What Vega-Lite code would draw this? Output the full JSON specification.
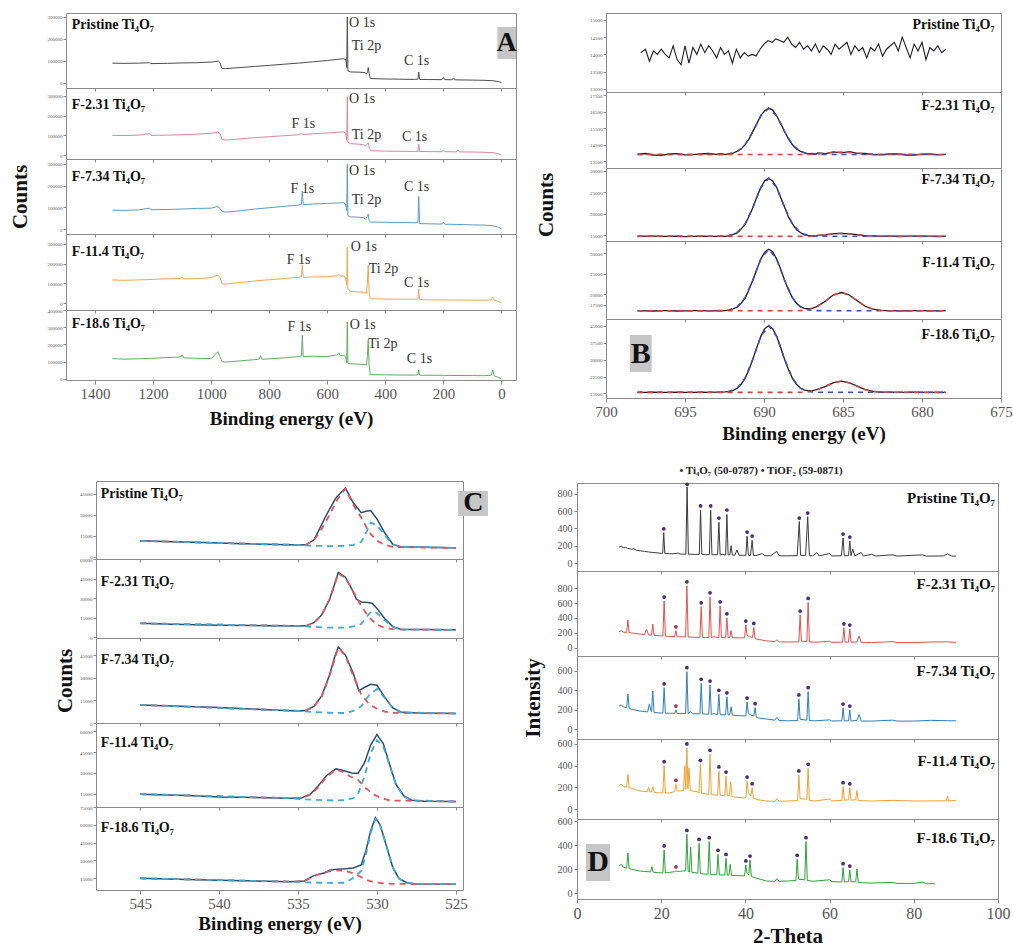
{
"$schema":"https://vega.github.io/schema/vega-lite/v6.json",
"background":"white",
"padding":{"left":5,"top":12,"right":0,"bottom":0},
"config":{"font":"Liberation Serif","view":{"stroke":"#8a8a8a","strokeWidth":1},"axis":{"grid":false,"domain":false,"tickColor":"#888","labelColor":"#555","titleFontWeight":"bold","titleColor":"#111","labelOverlap":false}},
"datasets":{
"a":[
{"s":"P","x":1340,"y":90000},{"s":"P","x":1300,"y":89000},{"s":"P","x":1250,"y":90000},{"s":"P","x":1212,"y":92000},{"s":"P","x":1208,"y":88000},{"s":"P","x":1150,"y":89000},{"s":"P","x":1100,"y":91000},{"s":"P","x":1050,"y":92000},{"s":"P","x":1000,"y":95000},{"s":"P","x":975,"y":99000},{"s":"P","x":970,"y":93000},{"s":"P","x":963,"y":66000},{"s":"P","x":950,"y":65000},{"s":"P","x":900,"y":70000},{"s":"P","x":850,"y":75000},{"s":"P","x":800,"y":80000},{"s":"P","x":750,"y":85000},{"s":"P","x":700,"y":90000},{"s":"P","x":650,"y":96000},{"s":"P","x":600,"y":102000},{"s":"P","x":560,"y":108000},{"s":"P","x":545,"y":110000},{"s":"P","x":536,"y":106000},{"s":"P","x":533,"y":70000},{"s":"P","x":531,"y":300000},{"s":"P","x":529,"y":55000},{"s":"P","x":520,"y":50000},{"s":"P","x":490,"y":49000},{"s":"P","x":470,"y":47000},{"s":"P","x":466,"y":40000},{"s":"P","x":461,"y":50000},{"s":"P","x":459,"y":70000},{"s":"P","x":456,"y":45000},{"s":"P","x":452,"y":20000},{"s":"P","x":400,"y":18000},{"s":"P","x":350,"y":17000},{"s":"P","x":300,"y":16000},{"s":"P","x":288,"y":17000},{"s":"P","x":285,"y":50000},{"s":"P","x":282,"y":16000},{"s":"P","x":250,"y":15500},{"s":"P","x":205,"y":15000},{"s":"P","x":200,"y":25000},{"s":"P","x":195,"y":15000},{"s":"P","x":170,"y":14500},{"s":"P","x":165,"y":23000},{"s":"P","x":160,"y":14000},{"s":"P","x":100,"y":13000},{"s":"P","x":60,"y":12000},{"s":"P","x":30,"y":10000},{"s":"P","x":10,"y":6000},{"s":"P","x":0,"y":2000},
{"s":"F2","x":1340,"y":100000},{"s":"F2","x":1300,"y":99000},{"s":"F2","x":1250,"y":101000},{"s":"F2","x":1212,"y":108000},{"s":"F2","x":1207,"y":100000},{"s":"F2","x":1150,"y":101000},{"s":"F2","x":1100,"y":103000},{"s":"F2","x":1050,"y":106000},{"s":"F2","x":1000,"y":110000},{"s":"F2","x":977,"y":117000},{"s":"F2","x":970,"y":110000},{"s":"F2","x":962,"y":78000},{"s":"F2","x":950,"y":76000},{"s":"F2","x":900,"y":82000},{"s":"F2","x":850,"y":88000},{"s":"F2","x":800,"y":93000},{"s":"F2","x":750,"y":98000},{"s":"F2","x":700,"y":103000},{"s":"F2","x":690,"y":108000},{"s":"F2","x":686,"y":104000},{"s":"F2","x":650,"y":108000},{"s":"F2","x":600,"y":112000},{"s":"F2","x":560,"y":116000},{"s":"F2","x":545,"y":118000},{"s":"F2","x":537,"y":112000},{"s":"F2","x":533,"y":75000},{"s":"F2","x":531,"y":295000},{"s":"F2","x":529,"y":65000},{"s":"F2","x":520,"y":58000},{"s":"F2","x":490,"y":55000},{"s":"F2","x":475,"y":52000},{"s":"F2","x":470,"y":45000},{"s":"F2","x":462,"y":55000},{"s":"F2","x":459,"y":62000},{"s":"F2","x":456,"y":40000},{"s":"F2","x":450,"y":22000},{"s":"F2","x":400,"y":20000},{"s":"F2","x":350,"y":19000},{"s":"F2","x":300,"y":18500},{"s":"F2","x":288,"y":19000},{"s":"F2","x":285,"y":56000},{"s":"F2","x":282,"y":18000},{"s":"F2","x":250,"y":17500},{"s":"F2","x":205,"y":17000},{"s":"F2","x":200,"y":25000},{"s":"F2","x":195,"y":17000},{"s":"F2","x":155,"y":16000},{"s":"F2","x":150,"y":26000},{"s":"F2","x":145,"y":16000},{"s":"F2","x":100,"y":15500},{"s":"F2","x":60,"y":14000},{"s":"F2","x":30,"y":12000},{"s":"F2","x":10,"y":6000},{"s":"F2","x":0,"y":0},
{"s":"F7","x":1340,"y":87000},{"s":"F7","x":1300,"y":86000},{"s":"F7","x":1250,"y":88000},{"s":"F7","x":1212,"y":96000},{"s":"F7","x":1207,"y":89000},{"s":"F7","x":1150,"y":90000},{"s":"F7","x":1100,"y":92000},{"s":"F7","x":1050,"y":95000},{"s":"F7","x":1000,"y":96000},{"s":"F7","x":977,"y":103000},{"s":"F7","x":970,"y":95000},{"s":"F7","x":962,"y":80000},{"s":"F7","x":950,"y":78000},{"s":"F7","x":900,"y":84000},{"s":"F7","x":850,"y":92000},{"s":"F7","x":800,"y":98000},{"s":"F7","x":750,"y":104000},{"s":"F7","x":700,"y":110000},{"s":"F7","x":689,"y":113000},{"s":"F7","x":686,"y":175000},{"s":"F7","x":683,"y":112000},{"s":"F7","x":650,"y":115000},{"s":"F7","x":600,"y":118000},{"s":"F7","x":560,"y":120000},{"s":"F7","x":545,"y":121000},{"s":"F7","x":537,"y":115000},{"s":"F7","x":533,"y":85000},{"s":"F7","x":531,"y":300000},{"s":"F7","x":529,"y":62000},{"s":"F7","x":520,"y":56000},{"s":"F7","x":490,"y":54000},{"s":"F7","x":475,"y":52000},{"s":"F7","x":468,"y":45000},{"s":"F7","x":462,"y":58000},{"s":"F7","x":459,"y":68000},{"s":"F7","x":456,"y":40000},{"s":"F7","x":452,"y":32000},{"s":"F7","x":400,"y":31000},{"s":"F7","x":350,"y":30000},{"s":"F7","x":300,"y":29000},{"s":"F7","x":288,"y":30000},{"s":"F7","x":285,"y":150000},{"s":"F7","x":282,"y":25000},{"s":"F7","x":250,"y":24000},{"s":"F7","x":205,"y":23000},{"s":"F7","x":200,"y":32000},{"s":"F7","x":195,"y":22000},{"s":"F7","x":150,"y":21000},{"s":"F7","x":100,"y":19000},{"s":"F7","x":60,"y":18000},{"s":"F7","x":30,"y":15000},{"s":"F7","x":10,"y":8000},{"s":"F7","x":0,"y":0},
{"s":"F11","x":1340,"y":117000},{"s":"F11","x":1300,"y":115000},{"s":"F11","x":1250,"y":117000},{"s":"F11","x":1200,"y":120000},{"s":"F11","x":1105,"y":125000},{"s":"F11","x":1100,"y":132000},{"s":"F11","x":1095,"y":122000},{"s":"F11","x":1050,"y":124000},{"s":"F11","x":1000,"y":128000},{"s":"F11","x":977,"y":142000},{"s":"F11","x":970,"y":130000},{"s":"F11","x":962,"y":98000},{"s":"F11","x":950,"y":96000},{"s":"F11","x":900,"y":104000},{"s":"F11","x":850,"y":112000},{"s":"F11","x":800,"y":118000},{"s":"F11","x":750,"y":124000},{"s":"F11","x":700,"y":130000},{"s":"F11","x":689,"y":133000},{"s":"F11","x":686,"y":193000},{"s":"F11","x":683,"y":130000},{"s":"F11","x":650,"y":132000},{"s":"F11","x":600,"y":134000},{"s":"F11","x":565,"y":138000},{"s":"F11","x":560,"y":145000},{"s":"F11","x":555,"y":136000},{"s":"F11","x":545,"y":138000},{"s":"F11","x":537,"y":130000},{"s":"F11","x":533,"y":90000},{"s":"F11","x":531,"y":284000},{"s":"F11","x":529,"y":70000},{"s":"F11","x":520,"y":58000},{"s":"F11","x":490,"y":56000},{"s":"F11","x":470,"y":54000},{"s":"F11","x":465,"y":50000},{"s":"F11","x":462,"y":100000},{"s":"F11","x":459,"y":193000},{"s":"F11","x":456,"y":60000},{"s":"F11","x":452,"y":22000},{"s":"F11","x":400,"y":20000},{"s":"F11","x":350,"y":19500},{"s":"F11","x":300,"y":19000},{"s":"F11","x":288,"y":20000},{"s":"F11","x":285,"y":71000},{"s":"F11","x":282,"y":17000},{"s":"F11","x":250,"y":16000},{"s":"F11","x":200,"y":15500},{"s":"F11","x":150,"y":15000},{"s":"F11","x":100,"y":14500},{"s":"F11","x":60,"y":14000},{"s":"F11","x":35,"y":16000},{"s":"F11","x":30,"y":30000},{"s":"F11","x":25,"y":14000},{"s":"F11","x":10,"y":8000},{"s":"F11","x":0,"y":0},
{"s":"F18","x":1340,"y":118000},{"s":"F18","x":1300,"y":115000},{"s":"F18","x":1250,"y":117000},{"s":"F18","x":1200,"y":120000},{"s":"F18","x":1105,"y":128000},{"s":"F18","x":1100,"y":140000},{"s":"F18","x":1095,"y":122000},{"s":"F18","x":1050,"y":120000},{"s":"F18","x":1000,"y":118000},{"s":"F18","x":977,"y":158000},{"s":"F18","x":970,"y":130000},{"s":"F18","x":962,"y":100000},{"s":"F18","x":950,"y":98000},{"s":"F18","x":900,"y":105000},{"s":"F18","x":850,"y":112000},{"s":"F18","x":835,"y":115000},{"s":"F18","x":830,"y":135000},{"s":"F18","x":825,"y":114000},{"s":"F18","x":750,"y":122000},{"s":"F18","x":700,"y":130000},{"s":"F18","x":689,"y":133000},{"s":"F18","x":686,"y":254000},{"s":"F18","x":683,"y":130000},{"s":"F18","x":650,"y":132000},{"s":"F18","x":600,"y":130000},{"s":"F18","x":565,"y":140000},{"s":"F18","x":560,"y":152000},{"s":"F18","x":555,"y":135000},{"s":"F18","x":545,"y":138000},{"s":"F18","x":537,"y":130000},{"s":"F18","x":533,"y":95000},{"s":"F18","x":531,"y":330000},{"s":"F18","x":529,"y":92000},{"s":"F18","x":520,"y":88000},{"s":"F18","x":490,"y":86000},{"s":"F18","x":470,"y":84000},{"s":"F18","x":465,"y":80000},{"s":"F18","x":462,"y":130000},{"s":"F18","x":459,"y":225000},{"s":"F18","x":456,"y":80000},{"s":"F18","x":452,"y":25000},{"s":"F18","x":400,"y":24000},{"s":"F18","x":350,"y":23000},{"s":"F18","x":300,"y":22500},{"s":"F18","x":288,"y":24000},{"s":"F18","x":285,"y":52000},{"s":"F18","x":282,"y":22000},{"s":"F18","x":250,"y":21500},{"s":"F18","x":200,"y":21000},{"s":"F18","x":150,"y":20000},{"s":"F18","x":100,"y":19500},{"s":"F18","x":60,"y":19000},{"s":"F18","x":35,"y":22000},{"s":"F18","x":30,"y":52000},{"s":"F18","x":25,"y":18000},{"s":"F18","x":10,"y":9000},{"s":"F18","x":0,"y":0}
],
"b":[
{"s":"P","k":"d","x":697.8,"y":14050},{"s":"P","k":"d","x":697.5,"y":14150},{"s":"P","k":"d","x":697.25,"y":13800},{"s":"P","k":"d","x":697,"y":14100},{"s":"P","k":"d","x":696.75,"y":14000},{"s":"P","k":"d","x":696.5,"y":14150},{"s":"P","k":"d","x":696.25,"y":14000},{"s":"P","k":"d","x":696,"y":13900},{"s":"P","k":"d","x":695.75,"y":14250},{"s":"P","k":"d","x":695.5,"y":13850},{"s":"P","k":"d","x":695.25,"y":13700},{"s":"P","k":"d","x":695,"y":14250},{"s":"P","k":"d","x":694.75,"y":13750},{"s":"P","k":"d","x":694.5,"y":14200},{"s":"P","k":"d","x":694.25,"y":14000},{"s":"P","k":"d","x":694,"y":14300},{"s":"P","k":"d","x":693.75,"y":14050},{"s":"P","k":"d","x":693.5,"y":14250},{"s":"P","k":"d","x":693.25,"y":14100},{"s":"P","k":"d","x":693,"y":13900},{"s":"P","k":"d","x":692.75,"y":14200},{"s":"P","k":"d","x":692.5,"y":14000},{"s":"P","k":"d","x":692.25,"y":14100},{"s":"P","k":"d","x":692,"y":13750},{"s":"P","k":"d","x":691.75,"y":14150},{"s":"P","k":"d","x":691.5,"y":13900},{"s":"P","k":"d","x":691.25,"y":14050},{"s":"P","k":"d","x":691,"y":13950},{"s":"P","k":"d","x":690.75,"y":14000},{"s":"P","k":"d","x":690.5,"y":13950},{"s":"P","k":"d","x":690.25,"y":14150},{"s":"P","k":"d","x":690,"y":14300},{"s":"P","k":"d","x":689.75,"y":14400},{"s":"P","k":"d","x":689.5,"y":14350},{"s":"P","k":"d","x":689.25,"y":14450},{"s":"P","k":"d","x":689,"y":14400},{"s":"P","k":"d","x":688.75,"y":14350},{"s":"P","k":"d","x":688.5,"y":14500},{"s":"P","k":"d","x":688.25,"y":14300},{"s":"P","k":"d","x":688,"y":14200},{"s":"P","k":"d","x":687.75,"y":14350},{"s":"P","k":"d","x":687.5,"y":14150},{"s":"P","k":"d","x":687.25,"y":14250},{"s":"P","k":"d","x":687,"y":14100},{"s":"P","k":"d","x":686.75,"y":14300},{"s":"P","k":"d","x":686.5,"y":14050},{"s":"P","k":"d","x":686.25,"y":14250},{"s":"P","k":"d","x":686,"y":14150},{"s":"P","k":"d","x":685.75,"y":14000},{"s":"P","k":"d","x":685.5,"y":14300},{"s":"P","k":"d","x":685.25,"y":14150},{"s":"P","k":"d","x":684.75,"y":14350},{"s":"P","k":"d","x":684.5,"y":14000},{"s":"P","k":"d","x":684.25,"y":14250},{"s":"P","k":"d","x":684,"y":14100},{"s":"P","k":"d","x":683.75,"y":14200},{"s":"P","k":"d","x":683.5,"y":13900},{"s":"P","k":"d","x":683.25,"y":14200},{"s":"P","k":"d","x":683,"y":14100},{"s":"P","k":"d","x":682.75,"y":14300},{"s":"P","k":"d","x":682.5,"y":13950},{"s":"P","k":"d","x":682.25,"y":14150},{"s":"P","k":"d","x":682,"y":14250},{"s":"P","k":"d","x":681.75,"y":14350},{"s":"P","k":"d","x":681.5,"y":14100},{"s":"P","k":"d","x":681.25,"y":14500},{"s":"P","k":"d","x":681,"y":14200},{"s":"P","k":"d","x":680.75,"y":13900},{"s":"P","k":"d","x":680.5,"y":14300},{"s":"P","k":"d","x":680.25,"y":14100},{"s":"P","k":"d","x":680,"y":14350},{"s":"P","k":"d","x":679.75,"y":13850},{"s":"P","k":"d","x":679.5,"y":14200},{"s":"P","k":"d","x":679.25,"y":14100},{"s":"P","k":"d","x":679,"y":14250},{"s":"P","k":"d","x":678.75,"y":14050},{"s":"P","k":"d","x":678.5,"y":14150},
{"s":"F2","k":"d","x":698,"y":13920},{"s":"F2","k":"d","x":697.5,"y":13960},{"s":"F2","k":"d","x":697,"y":13870},{"s":"F2","k":"d","x":696.5,"y":13850},{"s":"F2","k":"d","x":696,"y":13930},{"s":"F2","k":"d","x":695.5,"y":13950},{"s":"F2","k":"d","x":695,"y":13880},{"s":"F2","k":"d","x":694.5,"y":13890},{"s":"F2","k":"d","x":694,"y":13940},{"s":"F2","k":"d","x":693.5,"y":13960},{"s":"F2","k":"d","x":693,"y":13910},{"s":"F2","k":"d","x":692.7,"y":13950},{"s":"F2","k":"d","x":692.45,"y":13890},{"s":"F2","k":"d","x":692.2,"y":13960},{"s":"F2","k":"d","x":691.95,"y":13990},{"s":"F2","k":"d","x":691.7,"y":14100},{"s":"F2","k":"d","x":691.45,"y":14230},{"s":"F2","k":"d","x":691.2,"y":14500},{"s":"F2","k":"d","x":690.95,"y":14830},{"s":"F2","k":"d","x":690.7,"y":15320},{"s":"F2","k":"d","x":690.45,"y":15780},{"s":"F2","k":"d","x":690.2,"y":16280},{"s":"F2","k":"d","x":689.95,"y":16560},{"s":"F2","k":"d","x":689.7,"y":16720},{"s":"F2","k":"d","x":689.45,"y":16600},{"s":"F2","k":"d","x":689.2,"y":16255},{"s":"F2","k":"d","x":688.95,"y":15800},{"s":"F2","k":"d","x":688.7,"y":15300},{"s":"F2","k":"d","x":688.45,"y":14850},{"s":"F2","k":"d","x":688.2,"y":14490},{"s":"F2","k":"d","x":687.95,"y":14240},{"s":"F2","k":"d","x":687.7,"y":14090},{"s":"F2","k":"d","x":687.45,"y":14020},{"s":"F2","k":"d","x":687.2,"y":13930},{"s":"F2","k":"d","x":686.95,"y":13960},{"s":"F2","k":"d","x":686.7,"y":13920},{"s":"F2","k":"d","x":686.6,"y":13990},{"s":"F2","k":"d","x":686.1,"y":13960},{"s":"F2","k":"d","x":685.6,"y":14060},{"s":"F2","k":"d","x":685.1,"y":14000},{"s":"F2","k":"d","x":684.6,"y":14080},{"s":"F2","k":"d","x":684.1,"y":13970},{"s":"F2","k":"d","x":683.6,"y":13960},{"s":"F2","k":"d","x":683.1,"y":13900},{"s":"F2","k":"d","x":682.6,"y":13880},{"s":"F2","k":"d","x":682.1,"y":13930},{"s":"F2","k":"d","x":681.5,"y":13940},{"s":"F2","k":"d","x":681,"y":13870},{"s":"F2","k":"d","x":680.5,"y":13860},{"s":"F2","k":"d","x":680,"y":13920},{"s":"F2","k":"d","x":679.5,"y":13930},{"s":"F2","k":"d","x":679,"y":13880},{"s":"F2","k":"d","x":678.5,"y":13910},
{"s":"F2","k":"m","x":698,"y":13900},{"s":"F2","k":"m","x":692.7,"y":13906},{"s":"F2","k":"m","x":692.2,"y":13936},{"s":"F2","k":"m","x":691.7,"y":14076},{"s":"F2","k":"m","x":691.2,"y":14491},{"s":"F2","k":"m","x":690.7,"y":15300},{"s":"F2","k":"m","x":690.2,"y":16255},{"s":"F2","k":"m","x":689.7,"y":16700},{"s":"F2","k":"m","x":689.2,"y":16255},{"s":"F2","k":"m","x":688.7,"y":15300},{"s":"F2","k":"m","x":688.2,"y":14491},{"s":"F2","k":"m","x":687.7,"y":14076},{"s":"F2","k":"m","x":687.2,"y":13936},{"s":"F2","k":"m","x":686.7,"y":13906},{"s":"F2","k":"m","x":678.5,"y":13900},
{"s":"F2","k":"n","x":698,"y":13900},{"s":"F2","k":"n","x":687.1,"y":13900},{"s":"F2","k":"n","x":686.6,"y":13937},{"s":"F2","k":"n","x":686.1,"y":13981},{"s":"F2","k":"n","x":685.6,"y":14029},{"s":"F2","k":"n","x":685.1,"y":14050},{"s":"F2","k":"n","x":684.6,"y":14029},{"s":"F2","k":"n","x":684.1,"y":13981},{"s":"F2","k":"n","x":683.6,"y":13937},{"s":"F2","k":"n","x":683.1,"y":13913},{"s":"F2","k":"n","x":678.5,"y":13900},
{"s":"F7","k":"d","x":698,"y":14650},{"s":"F7","k":"d","x":697.5,"y":14720},{"s":"F7","k":"d","x":697,"y":14750},{"s":"F7","k":"d","x":696.5,"y":14680},{"s":"F7","k":"d","x":696,"y":14700},{"s":"F7","k":"d","x":695.5,"y":14760},{"s":"F7","k":"d","x":695,"y":14620},{"s":"F7","k":"d","x":694.5,"y":14700},{"s":"F7","k":"d","x":694,"y":14760},{"s":"F7","k":"d","x":693.5,"y":14680},{"s":"F7","k":"d","x":693,"y":14700},{"s":"F7","k":"d","x":692.7,"y":14760},{"s":"F7","k":"d","x":692.45,"y":14700},{"s":"F7","k":"d","x":692.2,"y":14850},{"s":"F7","k":"d","x":691.95,"y":15150},{"s":"F7","k":"d","x":691.7,"y":15500},{"s":"F7","k":"d","x":691.45,"y":16400},{"s":"F7","k":"d","x":691.2,"y":17500},{"s":"F7","k":"d","x":690.95,"y":19350},{"s":"F7","k":"d","x":690.7,"y":21450},{"s":"F7","k":"d","x":690.45,"y":23950},{"s":"F7","k":"d","x":690.2,"y":26100},{"s":"F7","k":"d","x":689.95,"y":27750},{"s":"F7","k":"d","x":689.7,"y":28300},{"s":"F7","k":"d","x":689.45,"y":27650},{"s":"F7","k":"d","x":689.2,"y":26200},{"s":"F7","k":"d","x":688.95,"y":23850},{"s":"F7","k":"d","x":688.7,"y":21550},{"s":"F7","k":"d","x":688.45,"y":19250},{"s":"F7","k":"d","x":688.2,"y":17600},{"s":"F7","k":"d","x":687.95,"y":16300},{"s":"F7","k":"d","x":687.7,"y":15600},{"s":"F7","k":"d","x":687.45,"y":15050},{"s":"F7","k":"d","x":687.2,"y":14900},{"s":"F7","k":"d","x":686.95,"y":14800},{"s":"F7","k":"d","x":686.7,"y":14700},{"s":"F7","k":"d","x":686.6,"y":14900},{"s":"F7","k":"d","x":686.1,"y":15050},{"s":"F7","k":"d","x":685.6,"y":15350},{"s":"F7","k":"d","x":685.1,"y":15380},{"s":"F7","k":"d","x":684.6,"y":15250},{"s":"F7","k":"d","x":684.1,"y":15100},{"s":"F7","k":"d","x":683.6,"y":14850},{"s":"F7","k":"d","x":683.1,"y":14780},{"s":"F7","k":"d","x":682.6,"y":14680},{"s":"F7","k":"d","x":682.1,"y":14730},{"s":"F7","k":"d","x":681.5,"y":14650},{"s":"F7","k":"d","x":681,"y":14680},{"s":"F7","k":"d","x":680.5,"y":14750},{"s":"F7","k":"d","x":680,"y":14720},{"s":"F7","k":"d","x":679.5,"y":14680},{"s":"F7","k":"d","x":679,"y":14660},{"s":"F7","k":"d","x":678.5,"y":14700},
{"s":"F7","k":"m","x":698,"y":14700},{"s":"F7","k":"m","x":692.7,"y":14727},{"s":"F7","k":"m","x":692.2,"y":14877},{"s":"F7","k":"m","x":691.7,"y":15557},{"s":"F7","k":"m","x":691.2,"y":17570},{"s":"F7","k":"m","x":690.7,"y":21500},{"s":"F7","k":"m","x":690.2,"y":26138},{"s":"F7","k":"m","x":689.7,"y":28300},{"s":"F7","k":"m","x":689.2,"y":26138},{"s":"F7","k":"m","x":688.7,"y":21500},{"s":"F7","k":"m","x":688.2,"y":17570},{"s":"F7","k":"m","x":687.7,"y":15557},{"s":"F7","k":"m","x":687.2,"y":14877},{"s":"F7","k":"m","x":686.7,"y":14727},{"s":"F7","k":"m","x":678.5,"y":14700},
{"s":"F7","k":"n","x":698,"y":14700},{"s":"F7","k":"n","x":687.1,"y":14700},{"s":"F7","k":"n","x":686.6,"y":14874},{"s":"F7","k":"n","x":686.1,"y":15078},{"s":"F7","k":"n","x":685.6,"y":15300},{"s":"F7","k":"n","x":685.1,"y":15400},{"s":"F7","k":"n","x":684.6,"y":15300},{"s":"F7","k":"n","x":684.1,"y":15078},{"s":"F7","k":"n","x":683.6,"y":14874},{"s":"F7","k":"n","x":683.1,"y":14760},{"s":"F7","k":"n","x":678.5,"y":14700},
{"s":"F11","k":"d","x":698,"y":16050},{"s":"F11","k":"d","x":697.5,"y":15980},{"s":"F11","k":"d","x":697,"y":15950},{"s":"F11","k":"d","x":696.5,"y":16060},{"s":"F11","k":"d","x":696,"y":16020},{"s":"F11","k":"d","x":695.5,"y":15950},{"s":"F11","k":"d","x":695,"y":15980},{"s":"F11","k":"d","x":694.5,"y":16040},{"s":"F11","k":"d","x":694,"y":16050},{"s":"F11","k":"d","x":693.5,"y":15970},{"s":"F11","k":"d","x":693,"y":16000},{"s":"F11","k":"d","x":692.7,"y":16030},{"s":"F11","k":"d","x":692.45,"y":16050},{"s":"F11","k":"d","x":692.2,"y":16150},{"s":"F11","k":"d","x":691.95,"y":16500},{"s":"F11","k":"d","x":691.7,"y":16900},{"s":"F11","k":"d","x":691.45,"y":17850},{"s":"F11","k":"d","x":691.2,"y":19100},{"s":"F11","k":"d","x":690.95,"y":21100},{"s":"F11","k":"d","x":690.7,"y":23550},{"s":"F11","k":"d","x":690.45,"y":26100},{"s":"F11","k":"d","x":690.2,"y":28650},{"s":"F11","k":"d","x":689.95,"y":30300},{"s":"F11","k":"d","x":689.7,"y":31000},{"s":"F11","k":"d","x":689.45,"y":30400},{"s":"F11","k":"d","x":689.2,"y":28600},{"s":"F11","k":"d","x":688.95,"y":26200},{"s":"F11","k":"d","x":688.7,"y":23500},{"s":"F11","k":"d","x":688.45,"y":21050},{"s":"F11","k":"d","x":688.2,"y":19200},{"s":"F11","k":"d","x":687.95,"y":17850},{"s":"F11","k":"d","x":687.7,"y":17000},{"s":"F11","k":"d","x":687.45,"y":16600},{"s":"F11","k":"d","x":687.2,"y":16500},{"s":"F11","k":"d","x":686.95,"y":16600},{"s":"F11","k":"d","x":686.7,"y":16950},{"s":"F11","k":"d","x":686.6,"y":17150},{"s":"F11","k":"d","x":686.1,"y":18400},{"s":"F11","k":"d","x":685.6,"y":19900},{"s":"F11","k":"d","x":685.1,"y":20450},{"s":"F11","k":"d","x":684.6,"y":19850},{"s":"F11","k":"d","x":684.1,"y":18450},{"s":"F11","k":"d","x":683.6,"y":17100},{"s":"F11","k":"d","x":683.1,"y":16400},{"s":"F11","k":"d","x":682.6,"y":16080},{"s":"F11","k":"d","x":682.1,"y":16030},{"s":"F11","k":"d","x":681.5,"y":15990},{"s":"F11","k":"d","x":681,"y":15970},{"s":"F11","k":"d","x":680.5,"y":16050},{"s":"F11","k":"d","x":680,"y":16040},{"s":"F11","k":"d","x":679.5,"y":15960},{"s":"F11","k":"d","x":679,"y":15980},{"s":"F11","k":"d","x":678.5,"y":16020},
{"s":"F11","k":"m","x":698,"y":16000},{"s":"F11","k":"m","x":692.7,"y":16030},{"s":"F11","k":"m","x":692.2,"y":16195},{"s":"F11","k":"m","x":691.7,"y":16945},{"s":"F11","k":"m","x":691.2,"y":19165},{"s":"F11","k":"m","x":690.7,"y":23500},{"s":"F11","k":"m","x":690.2,"y":28615},{"s":"F11","k":"m","x":689.7,"y":31000},{"s":"F11","k":"m","x":689.2,"y":28615},{"s":"F11","k":"m","x":688.7,"y":23500},{"s":"F11","k":"m","x":688.2,"y":19165},{"s":"F11","k":"m","x":687.7,"y":16945},{"s":"F11","k":"m","x":687.2,"y":16195},{"s":"F11","k":"m","x":686.7,"y":16030},{"s":"F11","k":"m","x":678.5,"y":16000},
{"s":"F11","k":"n","x":698,"y":16000},{"s":"F11","k":"n","x":688.1,"y":16000},{"s":"F11","k":"n","x":687.6,"y":16095},{"s":"F11","k":"n","x":687.1,"y":16383},{"s":"F11","k":"n","x":686.6,"y":17121},{"s":"F11","k":"n","x":686.1,"y":18430},{"s":"F11","k":"n","x":685.6,"y":19857},{"s":"F11","k":"n","x":685.1,"y":20500},{"s":"F11","k":"n","x":684.6,"y":19857},{"s":"F11","k":"n","x":684.1,"y":18430},{"s":"F11","k":"n","x":683.6,"y":17121},{"s":"F11","k":"n","x":683.1,"y":16383},{"s":"F11","k":"n","x":682.6,"y":16095},{"s":"F11","k":"n","x":682.1,"y":16018},{"s":"F11","k":"n","x":678.5,"y":16000},
{"s":"F18","k":"d","x":698,"y":15450},{"s":"F18","k":"d","x":697.5,"y":15520},{"s":"F18","k":"d","x":697,"y":15550},{"s":"F18","k":"d","x":696.5,"y":15460},{"s":"F18","k":"d","x":696,"y":15480},{"s":"F18","k":"d","x":695.5,"y":15560},{"s":"F18","k":"d","x":695,"y":15520},{"s":"F18","k":"d","x":694.5,"y":15480},{"s":"F18","k":"d","x":694,"y":15560},{"s":"F18","k":"d","x":693.5,"y":15530},{"s":"F18","k":"d","x":693,"y":15600},{"s":"F18","k":"d","x":692.7,"y":15600},{"s":"F18","k":"d","x":692.45,"y":15700},{"s":"F18","k":"d","x":692.2,"y":15900},{"s":"F18","k":"d","x":691.95,"y":16400},{"s":"F18","k":"d","x":691.7,"y":17300},{"s":"F18","k":"d","x":691.45,"y":19100},{"s":"F18","k":"d","x":691.2,"y":21700},{"s":"F18","k":"d","x":690.95,"y":25500},{"s":"F18","k":"d","x":690.7,"y":30300},{"s":"F18","k":"d","x":690.45,"y":35450},{"s":"F18","k":"d","x":690.2,"y":40300},{"s":"F18","k":"d","x":689.95,"y":43750},{"s":"F18","k":"d","x":689.7,"y":45000},{"s":"F18","k":"d","x":689.45,"y":43700},{"s":"F18","k":"d","x":689.2,"y":40350},{"s":"F18","k":"d","x":688.95,"y":35500},{"s":"F18","k":"d","x":688.7,"y":30200},{"s":"F18","k":"d","x":688.45,"y":25550},{"s":"F18","k":"d","x":688.2,"y":21700},{"s":"F18","k":"d","x":687.95,"y":19100},{"s":"F18","k":"d","x":687.7,"y":17450},{"s":"F18","k":"d","x":687.45,"y":16500},{"s":"F18","k":"d","x":687.2,"y":16250},{"s":"F18","k":"d","x":686.95,"y":16300},{"s":"F18","k":"d","x":686.7,"y":16600},{"s":"F18","k":"d","x":686.6,"y":16800},{"s":"F18","k":"d","x":686.1,"y":18150},{"s":"F18","k":"d","x":685.6,"y":19800},{"s":"F18","k":"d","x":685.1,"y":20500},{"s":"F18","k":"d","x":684.6,"y":19750},{"s":"F18","k":"d","x":684.1,"y":18250},{"s":"F18","k":"d","x":683.6,"y":16700},{"s":"F18","k":"d","x":683.1,"y":15950},{"s":"F18","k":"d","x":682.6,"y":15580},{"s":"F18","k":"d","x":682.1,"y":15540},{"s":"F18","k":"d","x":681.5,"y":15470},{"s":"F18","k":"d","x":681,"y":15480},{"s":"F18","k":"d","x":680.5,"y":15560},{"s":"F18","k":"d","x":680,"y":15530},{"s":"F18","k":"d","x":679.5,"y":15470},{"s":"F18","k":"d","x":679,"y":15490},{"s":"F18","k":"d","x":678.5,"y":15520},
{"s":"F18","k":"m","x":698,"y":15500},{"s":"F18","k":"m","x":692.7,"y":15559},{"s":"F18","k":"m","x":692.2,"y":15884},{"s":"F18","k":"m","x":691.7,"y":17359},{"s":"F18","k":"m","x":691.2,"y":21725},{"s":"F18","k":"m","x":690.7,"y":30250},{"s":"F18","k":"m","x":690.2,"y":40310},{"s":"F18","k":"m","x":689.7,"y":45000},{"s":"F18","k":"m","x":689.2,"y":40310},{"s":"F18","k":"m","x":688.7,"y":30250},{"s":"F18","k":"m","x":688.2,"y":21725},{"s":"F18","k":"m","x":687.7,"y":17359},{"s":"F18","k":"m","x":687.2,"y":15884},{"s":"F18","k":"m","x":686.7,"y":15559},{"s":"F18","k":"m","x":678.5,"y":15500},
{"s":"F18","k":"n","x":698,"y":15500},{"s":"F18","k":"n","x":688.1,"y":15500},{"s":"F18","k":"n","x":687.6,"y":15605},{"s":"F18","k":"n","x":687.1,"y":15925},{"s":"F18","k":"n","x":686.6,"y":16745},{"s":"F18","k":"n","x":686.1,"y":18200},{"s":"F18","k":"n","x":685.6,"y":19785},{"s":"F18","k":"n","x":685.1,"y":20500},{"s":"F18","k":"n","x":684.6,"y":19785},{"s":"F18","k":"n","x":684.1,"y":18200},{"s":"F18","k":"n","x":683.6,"y":16745},{"s":"F18","k":"n","x":683.1,"y":15925},{"s":"F18","k":"n","x":682.6,"y":15605},{"s":"F18","k":"n","x":682.1,"y":15520},{"s":"F18","k":"n","x":678.5,"y":15500}
],
"c":[
{"s":"P","k":"d","x":545,"y":11400},{"s":"P","k":"d","x":543,"y":10800},{"s":"P","k":"d","x":541,"y":10200},{"s":"P","k":"d","x":539,"y":9600},{"s":"P","k":"d","x":537,"y":9000},{"s":"P","k":"d","x":535,"y":8500},{"s":"P","k":"d","x":534.5,"y":8600},{"s":"P","k":"d","x":534,"y":12000},{"s":"P","k":"d","x":533.7,"y":18500},{"s":"P","k":"d","x":533.2,"y":30000},{"s":"P","k":"d","x":532.6,"y":42000},{"s":"P","k":"d","x":532,"y":49000},{"s":"P","k":"d","x":531.5,"y":38500},{"s":"P","k":"d","x":531,"y":31500},{"s":"P","k":"d","x":530.7,"y":32500},{"s":"P","k":"d","x":530.4,"y":33000},{"s":"P","k":"d","x":530,"y":27000},{"s":"P","k":"d","x":529.5,"y":17000},{"s":"P","k":"d","x":529,"y":9000},{"s":"P","k":"d","x":528.5,"y":7300},{"s":"P","k":"d","x":527,"y":6900},{"s":"P","k":"d","x":526,"y":6600},{"s":"P","k":"d","x":525,"y":6400},
{"s":"P","k":"r","x":545,"y":11400},{"s":"P","k":"r","x":537,"y":9000},{"s":"P","k":"r","x":535,"y":8500},{"s":"P","k":"r","x":534.5,"y":8600},{"s":"P","k":"r","x":534,"y":11800},{"s":"P","k":"r","x":533.5,"y":20000},{"s":"P","k":"r","x":533,"y":30000},{"s":"P","k":"r","x":532.5,"y":41000},{"s":"P","k":"r","x":532,"y":48500},{"s":"P","k":"r","x":531.5,"y":37000},{"s":"P","k":"r","x":531,"y":28000},{"s":"P","k":"r","x":530.5,"y":17500},{"s":"P","k":"r","x":530,"y":11500},{"s":"P","k":"r","x":529.5,"y":8500},{"s":"P","k":"r","x":529,"y":7200},{"s":"P","k":"r","x":528.5,"y":6900},{"s":"P","k":"r","x":525,"y":6400},
{"s":"P","k":"u","x":545,"y":11400},{"s":"P","k":"u","x":537,"y":9000},{"s":"P","k":"u","x":535,"y":8500},{"s":"P","k":"u","x":534,"y":7900},{"s":"P","k":"u","x":533,"y":7700},{"s":"P","k":"u","x":532,"y":7800},{"s":"P","k":"u","x":531.5,"y":8500},{"s":"P","k":"u","x":531,"y":10500},{"s":"P","k":"u","x":530.7,"y":17000},{"s":"P","k":"u","x":530.4,"y":24500},{"s":"P","k":"u","x":530,"y":22500},{"s":"P","k":"u","x":529.5,"y":15500},{"s":"P","k":"u","x":529,"y":8800},{"s":"P","k":"u","x":528.5,"y":7300},{"s":"P","k":"u","x":527,"y":6900},{"s":"P","k":"u","x":525,"y":6400},
{"s":"F2","k":"d","x":545,"y":10500},{"s":"F2","k":"d","x":543,"y":9800},{"s":"F2","k":"d","x":540,"y":9000},{"s":"F2","k":"d","x":537,"y":8700},{"s":"F2","k":"d","x":535,"y":8500},{"s":"F2","k":"d","x":534.5,"y":8600},{"s":"F2","k":"d","x":534,"y":11000},{"s":"F2","k":"d","x":533.5,"y":17000},{"s":"F2","k":"d","x":533,"y":29000},{"s":"F2","k":"d","x":532.7,"y":40000},{"s":"F2","k":"d","x":532.45,"y":49700},{"s":"F2","k":"d","x":532,"y":46000},{"s":"F2","k":"d","x":531.6,"y":37000},{"s":"F2","k":"d","x":531.3,"y":29000},{"s":"F2","k":"d","x":531,"y":27000},{"s":"F2","k":"d","x":530.6,"y":26500},{"s":"F2","k":"d","x":530.3,"y":26000},{"s":"F2","k":"d","x":530,"y":22000},{"s":"F2","k":"d","x":529.5,"y":14000},{"s":"F2","k":"d","x":529,"y":8000},{"s":"F2","k":"d","x":528.5,"y":6000},{"s":"F2","k":"d","x":527,"y":5700},{"s":"F2","k":"d","x":525,"y":5500},
{"s":"F2","k":"r","x":545,"y":10500},{"s":"F2","k":"r","x":535,"y":8500},{"s":"F2","k":"r","x":534.5,"y":8600},{"s":"F2","k":"r","x":534,"y":10800},{"s":"F2","k":"r","x":533.5,"y":17000},{"s":"F2","k":"r","x":533,"y":29000},{"s":"F2","k":"r","x":532.45,"y":49000},{"s":"F2","k":"r","x":532,"y":45500},{"s":"F2","k":"r","x":531.5,"y":35000},{"s":"F2","k":"r","x":531,"y":24000},{"s":"F2","k":"r","x":530.5,"y":15000},{"s":"F2","k":"r","x":530,"y":9500},{"s":"F2","k":"r","x":529.5,"y":7000},{"s":"F2","k":"r","x":529,"y":6000},{"s":"F2","k":"r","x":528.5,"y":5700},{"s":"F2","k":"r","x":525,"y":5500},
{"s":"F2","k":"u","x":545,"y":10500},{"s":"F2","k":"u","x":535,"y":8500},{"s":"F2","k":"u","x":534,"y":7800},{"s":"F2","k":"u","x":533,"y":7200},{"s":"F2","k":"u","x":532,"y":7200},{"s":"F2","k":"u","x":531.5,"y":8200},{"s":"F2","k":"u","x":531,"y":10000},{"s":"F2","k":"u","x":530.5,"y":17800},{"s":"F2","k":"u","x":530.3,"y":20000},{"s":"F2","k":"u","x":530,"y":18500},{"s":"F2","k":"u","x":529.5,"y":12800},{"s":"F2","k":"u","x":529,"y":7700},{"s":"F2","k":"u","x":528.5,"y":5800},{"s":"F2","k":"u","x":525,"y":5500},
{"s":"F7","k":"d","x":545,"y":12000},{"s":"F7","k":"d","x":542,"y":11000},{"s":"F7","k":"d","x":540,"y":10300},{"s":"F7","k":"d","x":537,"y":8800},{"s":"F7","k":"d","x":535,"y":8000},{"s":"F7","k":"d","x":534.5,"y":8300},{"s":"F7","k":"d","x":534,"y":11000},{"s":"F7","k":"d","x":533.5,"y":18000},{"s":"F7","k":"d","x":533,"y":32000},{"s":"F7","k":"d","x":532.7,"y":43000},{"s":"F7","k":"d","x":532.45,"y":50300},{"s":"F7","k":"d","x":532,"y":45000},{"s":"F7","k":"d","x":531.5,"y":33000},{"s":"F7","k":"d","x":531.15,"y":21500},{"s":"F7","k":"d","x":530.8,"y":23500},{"s":"F7","k":"d","x":530.4,"y":25600},{"s":"F7","k":"d","x":530,"y":25000},{"s":"F7","k":"d","x":529.5,"y":17000},{"s":"F7","k":"d","x":529,"y":10000},{"s":"F7","k":"d","x":528.5,"y":7300},{"s":"F7","k":"d","x":527.5,"y":6600},{"s":"F7","k":"d","x":526,"y":6400},{"s":"F7","k":"d","x":525,"y":6300},
{"s":"F7","k":"r","x":545,"y":12000},{"s":"F7","k":"r","x":535,"y":8000},{"s":"F7","k":"r","x":534.5,"y":8300},{"s":"F7","k":"r","x":534,"y":10800},{"s":"F7","k":"r","x":533.5,"y":17500},{"s":"F7","k":"r","x":533,"y":31500},{"s":"F7","k":"r","x":532.45,"y":50000},{"s":"F7","k":"r","x":532,"y":44500},{"s":"F7","k":"r","x":531.5,"y":31000},{"s":"F7","k":"r","x":531,"y":19000},{"s":"F7","k":"r","x":530.5,"y":12500},{"s":"F7","k":"r","x":530,"y":9500},{"s":"F7","k":"r","x":529.5,"y":7500},{"s":"F7","k":"r","x":529,"y":6700},{"s":"F7","k":"r","x":525,"y":6300},
{"s":"F7","k":"u","x":545,"y":12000},{"s":"F7","k":"u","x":535,"y":8000},{"s":"F7","k":"u","x":534,"y":7300},{"s":"F7","k":"u","x":533,"y":6800},{"s":"F7","k":"u","x":532,"y":6600},{"s":"F7","k":"u","x":531.5,"y":8000},{"s":"F7","k":"u","x":531,"y":11000},{"s":"F7","k":"u","x":530.5,"y":18500},{"s":"F7","k":"u","x":530,"y":22500},{"s":"F7","k":"u","x":529.5,"y":16500},{"s":"F7","k":"u","x":529,"y":10000},{"s":"F7","k":"u","x":528.5,"y":7000},{"s":"F7","k":"u","x":525,"y":6300},
{"s":"F11","k":"d","x":545,"y":14800},{"s":"F11","k":"d","x":542,"y":13800},{"s":"F11","k":"d","x":540,"y":12800},{"s":"F11","k":"d","x":537,"y":12200},{"s":"F11","k":"d","x":535.5,"y":11900},{"s":"F11","k":"d","x":534.8,"y":12000},{"s":"F11","k":"d","x":534.2,"y":15000},{"s":"F11","k":"d","x":533.7,"y":21000},{"s":"F11","k":"d","x":533.2,"y":28000},{"s":"F11","k":"d","x":532.6,"y":32900},{"s":"F11","k":"d","x":532.2,"y":32000},{"s":"F11","k":"d","x":531.6,"y":30000},{"s":"F11","k":"d","x":531.2,"y":29700},{"s":"F11","k":"d","x":530.8,"y":37000},{"s":"F11","k":"d","x":530.4,"y":50000},{"s":"F11","k":"d","x":530,"y":57500},{"s":"F11","k":"d","x":529.6,"y":51000},{"s":"F11","k":"d","x":529.2,"y":36000},{"s":"F11","k":"d","x":528.8,"y":22000},{"s":"F11","k":"d","x":528.3,"y":13500},{"s":"F11","k":"d","x":527.8,"y":10500},{"s":"F11","k":"d","x":527,"y":9800},{"s":"F11","k":"d","x":525,"y":9500},
{"s":"F11","k":"r","x":545,"y":14800},{"s":"F11","k":"r","x":535.5,"y":11900},{"s":"F11","k":"r","x":534.8,"y":11900},{"s":"F11","k":"r","x":534.2,"y":14500},{"s":"F11","k":"r","x":533.7,"y":20000},{"s":"F11","k":"r","x":533.2,"y":27000},{"s":"F11","k":"r","x":532.6,"y":32500},{"s":"F11","k":"r","x":532.2,"y":31000},{"s":"F11","k":"r","x":531.7,"y":27500},{"s":"F11","k":"r","x":531.2,"y":25000},{"s":"F11","k":"r","x":530.7,"y":19000},{"s":"F11","k":"r","x":530.2,"y":14500},{"s":"F11","k":"r","x":529.7,"y":11800},{"s":"F11","k":"r","x":529.2,"y":10300},{"s":"F11","k":"r","x":525,"y":9500},
{"s":"F11","k":"u","x":545,"y":14800},{"s":"F11","k":"u","x":535.5,"y":11900},{"s":"F11","k":"u","x":534.5,"y":11000},{"s":"F11","k":"u","x":533.5,"y":10500},{"s":"F11","k":"u","x":532.5,"y":10300},{"s":"F11","k":"u","x":532,"y":10500},{"s":"F11","k":"u","x":531.5,"y":12000},{"s":"F11","k":"u","x":531.2,"y":15000},{"s":"F11","k":"u","x":530.8,"y":27200},{"s":"F11","k":"u","x":530.4,"y":44000},{"s":"F11","k":"u","x":530,"y":53500},{"s":"F11","k":"u","x":529.6,"y":48900},{"s":"F11","k":"u","x":529.2,"y":35500},{"s":"F11","k":"u","x":528.8,"y":21700},{"s":"F11","k":"u","x":528.3,"y":13000},{"s":"F11","k":"u","x":527.8,"y":10400},{"s":"F11","k":"u","x":525,"y":9500},
{"s":"F18","k":"d","x":545,"y":14700},{"s":"F18","k":"d","x":542,"y":13800},{"s":"F18","k":"d","x":540,"y":13000},{"s":"F18","k":"d","x":537,"y":12300},{"s":"F18","k":"d","x":535.5,"y":11900},{"s":"F18","k":"d","x":534.6,"y":12500},{"s":"F18","k":"d","x":534,"y":17000},{"s":"F18","k":"d","x":533.3,"y":19500},{"s":"F18","k":"d","x":533,"y":21500},{"s":"F18","k":"d","x":532.5,"y":22500},{"s":"F18","k":"d","x":532,"y":22800},{"s":"F18","k":"d","x":531.5,"y":23500},{"s":"F18","k":"d","x":531,"y":26000},{"s":"F18","k":"d","x":530.7,"y":38000},{"s":"F18","k":"d","x":530.4,"y":55000},{"s":"F18","k":"d","x":530.1,"y":66000},{"s":"F18","k":"d","x":529.8,"y":60000},{"s":"F18","k":"d","x":529.4,"y":42000},{"s":"F18","k":"d","x":529,"y":24000},{"s":"F18","k":"d","x":528.6,"y":14500},{"s":"F18","k":"d","x":528.1,"y":11000},{"s":"F18","k":"d","x":527.5,"y":10000},{"s":"F18","k":"d","x":525,"y":9800},
{"s":"F18","k":"r","x":545,"y":14700},{"s":"F18","k":"r","x":535.5,"y":11900},{"s":"F18","k":"r","x":534.6,"y":12300},{"s":"F18","k":"r","x":534,"y":16500},{"s":"F18","k":"r","x":533.5,"y":19000},{"s":"F18","k":"r","x":533,"y":20800},{"s":"F18","k":"r","x":532.5,"y":21500},{"s":"F18","k":"r","x":532,"y":21000},{"s":"F18","k":"r","x":531.5,"y":19000},{"s":"F18","k":"r","x":531.1,"y":16500},{"s":"F18","k":"r","x":530.7,"y":13500},{"s":"F18","k":"r","x":530.2,"y":11500},{"s":"F18","k":"r","x":529.6,"y":10500},{"s":"F18","k":"r","x":529,"y":10000},{"s":"F18","k":"r","x":525,"y":9800},
{"s":"F18","k":"u","x":545,"y":14700},{"s":"F18","k":"u","x":535.5,"y":11900},{"s":"F18","k":"u","x":534.5,"y":11300},{"s":"F18","k":"u","x":533.5,"y":11000},{"s":"F18","k":"u","x":532.5,"y":10800},{"s":"F18","k":"u","x":532,"y":11000},{"s":"F18","k":"u","x":531.5,"y":15300},{"s":"F18","k":"u","x":531,"y":20700},{"s":"F18","k":"u","x":530.7,"y":35100},{"s":"F18","k":"u","x":530.4,"y":53200},{"s":"F18","k":"u","x":530.1,"y":64800},{"s":"F18","k":"u","x":529.8,"y":59300},{"s":"F18","k":"u","x":529.4,"y":41900},{"s":"F18","k":"u","x":529,"y":24000},{"s":"F18","k":"u","x":528.6,"y":14500},{"s":"F18","k":"u","x":528.1,"y":11000},{"s":"F18","k":"u","x":527.5,"y":10000},{"s":"F18","k":"u","x":525,"y":9800}
],
"d":[
{"s":"P","x":10,"y":185},{"s":"P","x":10.5,"y":195},{"s":"P","x":11,"y":178},{"s":"P","x":11.5,"y":182},{"s":"P","x":12,"y":170},{"s":"P","x":13,"y":160},{"s":"P","x":13.5,"y":165},{"s":"P","x":14,"y":150},{"s":"P","x":15,"y":142},{"s":"P","x":16,"y":135},{"s":"P","x":17,"y":128},{"s":"P","x":18,"y":122},{"s":"P","x":19,"y":118},{"s":"P","x":20,"y":112},{"s":"P","x":20.35,"y":113},{"s":"P","x":20.6,"y":350},{"s":"P","x":20.85,"y":112},{"s":"P","x":22,"y":108},{"s":"P","x":23,"y":108},{"s":"P","x":24,"y":115},{"s":"P","x":24.5,"y":104},{"s":"P","x":25,"y":104},{"s":"P","x":25.85,"y":103},{"s":"P","x":26.15,"y":880},{"s":"P","x":26.45,"y":102},{"s":"P","x":27,"y":102},{"s":"P","x":28,"y":100},{"s":"P","x":29.05,"y":100},{"s":"P","x":29.35,"y":610},{"s":"P","x":29.65,"y":100},{"s":"P","x":30.5,"y":97},{"s":"P","x":31.45,"y":96},{"s":"P","x":31.75,"y":610},{"s":"P","x":32.05,"y":96},{"s":"P","x":32.5,"y":97},{"s":"P","x":33.4,"y":95},{"s":"P","x":33.7,"y":470},{"s":"P","x":34,"y":95},{"s":"P","x":34.5,"y":100},{"s":"P","x":35.3,"y":93},{"s":"P","x":35.6,"y":560},{"s":"P","x":35.9,"y":94},{"s":"P","x":36.3,"y":95},{"s":"P","x":36.6,"y":200},{"s":"P","x":36.9,"y":92},{"s":"P","x":37.5,"y":92},{"s":"P","x":38,"y":150},{"s":"P","x":38.5,"y":90},{"s":"P","x":39.5,"y":90},{"s":"P","x":40.1,"y":89},{"s":"P","x":40.4,"y":310},{"s":"P","x":40.7,"y":89},{"s":"P","x":41.2,"y":88},{"s":"P","x":41.6,"y":260},{"s":"P","x":41.9,"y":87},{"s":"P","x":42.5,"y":86},{"s":"P","x":44,"y":110},{"s":"P","x":44.5,"y":85},{"s":"P","x":46,"y":84},{"s":"P","x":47.5,"y":135},{"s":"P","x":48,"y":84},{"s":"P","x":50,"y":83},{"s":"P","x":52.3,"y":85},{"s":"P","x":52.8,"y":480},{"s":"P","x":53.1,"y":90},{"s":"P","x":54.3,"y":88},{"s":"P","x":54.8,"y":535},{"s":"P","x":55.2,"y":84},{"s":"P","x":56,"y":83},{"s":"P","x":57,"y":120},{"s":"P","x":57.5,"y":83},{"s":"P","x":60,"y":110},{"s":"P","x":60.5,"y":82},{"s":"P","x":62.8,"y":84},{"s":"P","x":63.2,"y":290},{"s":"P","x":63.5,"y":84},{"s":"P","x":64.5,"y":85},{"s":"P","x":64.8,"y":255},{"s":"P","x":65.1,"y":84},{"s":"P","x":65.5,"y":160},{"s":"P","x":66,"y":83},{"s":"P","x":67.5,"y":120},{"s":"P","x":68,"y":82},{"s":"P","x":70,"y":100},{"s":"P","x":71,"y":81},{"s":"P","x":75,"y":95},{"s":"P","x":76,"y":80},{"s":"P","x":82,"y":95},{"s":"P","x":83,"y":80},{"s":"P","x":87,"y":82},{"s":"P","x":88,"y":105},{"s":"P","x":89,"y":80},{"s":"P","x":90,"y":80},
{"s":"F2","x":10,"y":217},{"s":"F2","x":10.5,"y":230},{"s":"F2","x":11,"y":212},{"s":"F2","x":11.8,"y":207},{"s":"F2","x":12.1,"y":370},{"s":"F2","x":12.4,"y":205},{"s":"F2","x":13,"y":200},{"s":"F2","x":14,"y":192},{"s":"F2","x":15,"y":186},{"s":"F2","x":16,"y":180},{"s":"F2","x":16.5,"y":250},{"s":"F2","x":17,"y":175},{"s":"F2","x":17.7,"y":172},{"s":"F2","x":18,"y":320},{"s":"F2","x":18.3,"y":170},{"s":"F2","x":19,"y":165},{"s":"F2","x":20.4,"y":160},{"s":"F2","x":20.7,"y":627},{"s":"F2","x":21,"y":158},{"s":"F2","x":22,"y":155},{"s":"F2","x":23.2,"y":152},{"s":"F2","x":23.5,"y":230},{"s":"F2","x":23.8,"y":150},{"s":"F2","x":25,"y":148},{"s":"F2","x":25.8,"y":146},{"s":"F2","x":26.1,"y":830},{"s":"F2","x":26.4,"y":146},{"s":"F2","x":27,"y":145},{"s":"F2","x":28,"y":143},{"s":"F2","x":29.2,"y":142},{"s":"F2","x":29.5,"y":550},{"s":"F2","x":29.8,"y":141},{"s":"F2","x":30.5,"y":140},{"s":"F2","x":31.3,"y":140},{"s":"F2","x":31.6,"y":683},{"s":"F2","x":31.9,"y":140},{"s":"F2","x":32.5,"y":150},{"s":"F2","x":33.7,"y":139},{"s":"F2","x":34,"y":563},{"s":"F2","x":34.3,"y":139},{"s":"F2","x":35.3,"y":138},{"s":"F2","x":35.6,"y":403},{"s":"F2","x":35.9,"y":138},{"s":"F2","x":36.3,"y":140},{"s":"F2","x":36.6,"y":230},{"s":"F2","x":36.9,"y":137},{"s":"F2","x":38,"y":136},{"s":"F2","x":39.8,"y":135},{"s":"F2","x":40.1,"y":306},{"s":"F2","x":40.4,"y":170},{"s":"F2","x":41,"y":150},{"s":"F2","x":41.7,"y":140},{"s":"F2","x":42,"y":275},{"s":"F2","x":42.3,"y":125},{"s":"F2","x":43,"y":115},{"s":"F2","x":44,"y":105},{"s":"F2","x":45,"y":95},{"s":"F2","x":47,"y":85},{"s":"F2","x":47.5,"y":110},{"s":"F2","x":48,"y":82},{"s":"F2","x":50,"y":80},{"s":"F2","x":52.7,"y":82},{"s":"F2","x":53,"y":439},{"s":"F2","x":53.3,"y":90},{"s":"F2","x":54.6,"y":85},{"s":"F2","x":54.9,"y":608},{"s":"F2","x":55.2,"y":80},{"s":"F2","x":57,"y":78},{"s":"F2","x":60,"y":90},{"s":"F2","x":60.5,"y":76},{"s":"F2","x":63.1,"y":78},{"s":"F2","x":63.4,"y":270},{"s":"F2","x":63.7,"y":78},{"s":"F2","x":64.5,"y":78},{"s":"F2","x":64.8,"y":253},{"s":"F2","x":65.1,"y":77},{"s":"F2","x":66.5,"y":80},{"s":"F2","x":67,"y":160},{"s":"F2","x":67.5,"y":75},{"s":"F2","x":70,"y":72},{"s":"F2","x":75,"y":85},{"s":"F2","x":76,"y":72},{"s":"F2","x":80,"y":72},{"s":"F2","x":84,"y":80},{"s":"F2","x":88,"y":82},{"s":"F2","x":90,"y":75},
{"s":"F7","x":10,"y":238},{"s":"F7","x":10.5,"y":250},{"s":"F7","x":11,"y":228},{"s":"F7","x":11.8,"y":222},{"s":"F7","x":12.1,"y":362},{"s":"F7","x":12.4,"y":212},{"s":"F7","x":13,"y":205},{"s":"F7","x":14,"y":195},{"s":"F7","x":15,"y":186},{"s":"F7","x":16,"y":180},{"s":"F7","x":16.8,"y":178},{"s":"F7","x":17.2,"y":260},{"s":"F7","x":17.5,"y":200},{"s":"F7","x":17.7,"y":176},{"s":"F7","x":18,"y":393},{"s":"F7","x":18.3,"y":172},{"s":"F7","x":19,"y":168},{"s":"F7","x":20.4,"y":165},{"s":"F7","x":20.7,"y":427},{"s":"F7","x":21,"y":164},{"s":"F7","x":22,"y":163},{"s":"F7","x":23.2,"y":162},{"s":"F7","x":23.5,"y":197},{"s":"F7","x":23.8,"y":161},{"s":"F7","x":25,"y":160},{"s":"F7","x":25.8,"y":160},{"s":"F7","x":26.1,"y":593},{"s":"F7","x":26.4,"y":160},{"s":"F7","x":27,"y":180},{"s":"F7","x":27.5,"y":158},{"s":"F7","x":29.2,"y":157},{"s":"F7","x":29.5,"y":473},{"s":"F7","x":29.8,"y":156},{"s":"F7","x":30.5,"y":155},{"s":"F7","x":31.3,"y":154},{"s":"F7","x":31.6,"y":455},{"s":"F7","x":31.9,"y":152},{"s":"F7","x":32.5,"y":160},{"s":"F7","x":33.4,"y":150},{"s":"F7","x":33.7,"y":359},{"s":"F7","x":34,"y":149},{"s":"F7","x":35.3,"y":146},{"s":"F7","x":35.6,"y":334},{"s":"F7","x":35.9,"y":145},{"s":"F7","x":36.3,"y":150},{"s":"F7","x":36.6,"y":230},{"s":"F7","x":36.9,"y":143},{"s":"F7","x":38,"y":140},{"s":"F7","x":40.1,"y":135},{"s":"F7","x":40.4,"y":279},{"s":"F7","x":40.7,"y":160},{"s":"F7","x":41.3,"y":145},{"s":"F7","x":42,"y":135},{"s":"F7","x":42.3,"y":221},{"s":"F7","x":42.6,"y":120},{"s":"F7","x":43,"y":115},{"s":"F7","x":45,"y":103},{"s":"F7","x":47,"y":92},{"s":"F7","x":47.5,"y":120},{"s":"F7","x":48,"y":88},{"s":"F7","x":50,"y":85},{"s":"F7","x":52.4,"y":88},{"s":"F7","x":52.7,"y":311},{"s":"F7","x":53,"y":100},{"s":"F7","x":54.6,"y":92},{"s":"F7","x":54.9,"y":386},{"s":"F7","x":55.2,"y":88},{"s":"F7","x":56.5,"y":85},{"s":"F7","x":60,"y":95},{"s":"F7","x":60.5,"y":83},{"s":"F7","x":62.9,"y":85},{"s":"F7","x":63.2,"y":217},{"s":"F7","x":63.5,"y":85},{"s":"F7","x":64.5,"y":85},{"s":"F7","x":64.8,"y":197},{"s":"F7","x":65.1,"y":84},{"s":"F7","x":66.5,"y":88},{"s":"F7","x":67,"y":150},{"s":"F7","x":67.5,"y":82},{"s":"F7","x":70,"y":82},{"s":"F7","x":75,"y":92},{"s":"F7","x":76,"y":82},{"s":"F7","x":80,"y":82},{"s":"F7","x":84,"y":90},{"s":"F7","x":88,"y":86},{"s":"F7","x":90,"y":85},
{"s":"F11","x":10,"y":219},{"s":"F11","x":10.5,"y":230},{"s":"F11","x":11,"y":210},{"s":"F11","x":11.8,"y":203},{"s":"F11","x":12.1,"y":320},{"s":"F11","x":12.4,"y":198},{"s":"F11","x":13,"y":190},{"s":"F11","x":14,"y":178},{"s":"F11","x":15,"y":166},{"s":"F11","x":16,"y":162},{"s":"F11","x":16.7,"y":160},{"s":"F11","x":17,"y":200},{"s":"F11","x":17.3,"y":158},{"s":"F11","x":17.7,"y":157},{"s":"F11","x":18,"y":206},{"s":"F11","x":18.3,"y":155},{"s":"F11","x":19,"y":150},{"s":"F11","x":20.4,"y":148},{"s":"F11","x":20.7,"y":400},{"s":"F11","x":21,"y":147},{"s":"F11","x":22,"y":150},{"s":"F11","x":23.2,"y":160},{"s":"F11","x":23.5,"y":228},{"s":"F11","x":23.8,"y":165},{"s":"F11","x":24.8,"y":168},{"s":"F11","x":25.3,"y":170},{"s":"F11","x":25.6,"y":400},{"s":"F11","x":25.85,"y":180},{"s":"F11","x":26.1,"y":563},{"s":"F11","x":26.35,"y":185},{"s":"F11","x":26.6,"y":380},{"s":"F11","x":26.9,"y":170},{"s":"F11","x":27.5,"y":165},{"s":"F11","x":28.5,"y":160},{"s":"F11","x":29,"y":148},{"s":"F11","x":29.3,"y":412},{"s":"F11","x":29.6,"y":145},{"s":"F11","x":30.5,"y":140},{"s":"F11","x":31.3,"y":135},{"s":"F11","x":31.6,"y":505},{"s":"F11","x":31.9,"y":133},{"s":"F11","x":32.5,"y":130},{"s":"F11","x":33.4,"y":128},{"s":"F11","x":33.7,"y":351},{"s":"F11","x":34,"y":126},{"s":"F11","x":35.1,"y":122},{"s":"F11","x":35.4,"y":304},{"s":"F11","x":35.7,"y":120},{"s":"F11","x":36.2,"y":125},{"s":"F11","x":36.5,"y":250},{"s":"F11","x":36.8,"y":115},{"s":"F11","x":38,"y":108},{"s":"F11","x":40.1,"y":102},{"s":"F11","x":40.4,"y":258},{"s":"F11","x":40.7,"y":150},{"s":"F11","x":41.3,"y":120},{"s":"F11","x":41.6,"y":196},{"s":"F11","x":41.9,"y":100},{"s":"F11","x":43,"y":85},{"s":"F11","x":45,"y":74},{"s":"F11","x":47,"y":70},{"s":"F11","x":47.5,"y":95},{"s":"F11","x":48,"y":72},{"s":"F11","x":50,"y":74},{"s":"F11","x":52.4,"y":78},{"s":"F11","x":52.7,"y":314},{"s":"F11","x":53,"y":95},{"s":"F11","x":54.6,"y":90},{"s":"F11","x":54.9,"y":375},{"s":"F11","x":55.2,"y":80},{"s":"F11","x":56.5,"y":74},{"s":"F11","x":60,"y":92},{"s":"F11","x":60.5,"y":75},{"s":"F11","x":62.9,"y":80},{"s":"F11","x":63.2,"y":206},{"s":"F11","x":63.5,"y":82},{"s":"F11","x":64.5,"y":84},{"s":"F11","x":64.8,"y":196},{"s":"F11","x":65.1,"y":82},{"s":"F11","x":66.2,"y":85},{"s":"F11","x":66.5,"y":170},{"s":"F11","x":66.8,"y":78},{"s":"F11","x":70,"y":74},{"s":"F11","x":75,"y":80},{"s":"F11","x":80,"y":74},{"s":"F11","x":87.7,"y":76},{"s":"F11","x":88,"y":120},{"s":"F11","x":88.3,"y":74},{"s":"F11","x":90,"y":80},
{"s":"F18","x":10,"y":225},{"s":"F18","x":10.5,"y":240},{"s":"F18","x":11,"y":215},{"s":"F18","x":11.8,"y":208},{"s":"F18","x":12.1,"y":334},{"s":"F18","x":12.4,"y":203},{"s":"F18","x":13,"y":198},{"s":"F18","x":14,"y":190},{"s":"F18","x":15,"y":183},{"s":"F18","x":16,"y":180},{"s":"F18","x":17.5,"y":176},{"s":"F18","x":17.8,"y":220},{"s":"F18","x":18.1,"y":174},{"s":"F18","x":19,"y":170},{"s":"F18","x":20.4,"y":167},{"s":"F18","x":20.7,"y":359},{"s":"F18","x":21,"y":168},{"s":"F18","x":22,"y":172},{"s":"F18","x":23.2,"y":178},{"s":"F18","x":23.5,"y":184},{"s":"F18","x":23.8,"y":180},{"s":"F18","x":25,"y":183},{"s":"F18","x":25.8,"y":185},{"s":"F18","x":26.1,"y":489},{"s":"F18","x":26.4,"y":180},{"s":"F18","x":26.7,"y":175},{"s":"F18","x":27,"y":380},{"s":"F18","x":27.3,"y":172},{"s":"F18","x":28,"y":170},{"s":"F18","x":28.7,"y":165},{"s":"F18","x":29,"y":414},{"s":"F18","x":29.3,"y":162},{"s":"F18","x":30.3,"y":158},{"s":"F18","x":31.1,"y":156},{"s":"F18","x":31.4,"y":428},{"s":"F18","x":31.7,"y":155},{"s":"F18","x":32.5,"y":153},{"s":"F18","x":33.2,"y":152},{"s":"F18","x":33.5,"y":323},{"s":"F18","x":33.8,"y":151},{"s":"F18","x":35.1,"y":150},{"s":"F18","x":35.4,"y":289},{"s":"F18","x":35.7,"y":149},{"s":"F18","x":36.1,"y":150},{"s":"F18","x":36.4,"y":240},{"s":"F18","x":36.7,"y":147},{"s":"F18","x":38,"y":145},{"s":"F18","x":39.8,"y":143},{"s":"F18","x":40.1,"y":234},{"s":"F18","x":40.4,"y":165},{"s":"F18","x":40.8,"y":150},{"s":"F18","x":41.1,"y":275},{"s":"F18","x":41.4,"y":140},{"s":"F18","x":42,"y":130},{"s":"F18","x":43,"y":120},{"s":"F18","x":45,"y":100},{"s":"F18","x":47,"y":97},{"s":"F18","x":47.5,"y":120},{"s":"F18","x":48,"y":98},{"s":"F18","x":50,"y":100},{"s":"F18","x":52,"y":105},{"s":"F18","x":52.3,"y":281},{"s":"F18","x":52.6,"y":115},{"s":"F18","x":54.1,"y":110},{"s":"F18","x":54.4,"y":428},{"s":"F18","x":54.7,"y":105},{"s":"F18","x":56,"y":98},{"s":"F18","x":60,"y":110},{"s":"F18","x":60.5,"y":95},{"s":"F18","x":62.9,"y":92},{"s":"F18","x":63.2,"y":211},{"s":"F18","x":63.5,"y":92},{"s":"F18","x":64.5,"y":94},{"s":"F18","x":64.8,"y":192},{"s":"F18","x":65.1,"y":92},{"s":"F18","x":66.2,"y":95},{"s":"F18","x":66.5,"y":200},{"s":"F18","x":66.8,"y":88},{"s":"F18","x":68,"y":85},{"s":"F18","x":70,"y":83},{"s":"F18","x":75,"y":88},{"s":"F18","x":76,"y":80},{"s":"F18","x":80,"y":80},{"s":"F18","x":82,"y":90},{"s":"F18","x":83,"y":78},{"s":"F18","x":85,"y":77}
],
"dot":[
{"s":"P","p":"T","x":20.6,"y":395},{"s":"P","p":"T","x":26.15,"y":910},{"s":"P","p":"T","x":29.35,"y":660},{"s":"P","p":"T","x":31.75,"y":660},{"s":"P","p":"T","x":33.7,"y":520},{"s":"P","p":"T","x":35.6,"y":613},{"s":"P","p":"T","x":40.4,"y":358},{"s":"P","p":"T","x":41.6,"y":312},{"s":"P","p":"T","x":52.8,"y":520},{"s":"P","p":"T","x":54.8,"y":578},{"s":"P","p":"T","x":63.2,"y":335},{"s":"P","p":"T","x":64.8,"y":300},
{"s":"F2","p":"T","x":20.7,"y":680},{"s":"F2","p":"T","x":26.1,"y":882},{"s":"F2","p":"T","x":29.5,"y":603},{"s":"F2","p":"T","x":31.6,"y":736},{"s":"F2","p":"T","x":34,"y":616},{"s":"F2","p":"T","x":35.6,"y":456},{"s":"F2","p":"T","x":40.1,"y":359},{"s":"F2","p":"T","x":42,"y":328},{"s":"F2","p":"T","x":53,"y":492},{"s":"F2","p":"T","x":54.9,"y":661},{"s":"F2","p":"T","x":63.4,"y":323},{"s":"F2","p":"T","x":64.8,"y":306},{"s":"F2","p":"F","x":23.5,"y":283},
{"s":"F7","p":"T","x":20.7,"y":468},{"s":"F7","p":"T","x":26.1,"y":634},{"s":"F7","p":"T","x":29.5,"y":514},{"s":"F7","p":"T","x":31.6,"y":496},{"s":"F7","p":"T","x":33.7,"y":400},{"s":"F7","p":"T","x":35.6,"y":375},{"s":"F7","p":"T","x":40.4,"y":320},{"s":"F7","p":"T","x":42.3,"y":262},{"s":"F7","p":"T","x":52.7,"y":352},{"s":"F7","p":"T","x":54.9,"y":427},{"s":"F7","p":"T","x":63.2,"y":258},{"s":"F7","p":"T","x":64.8,"y":238},{"s":"F7","p":"F","x":23.5,"y":238},
{"s":"F11","p":"T","x":20.7,"y":437},{"s":"F11","p":"T","x":26.1,"y":600},{"s":"F11","p":"T","x":29.3,"y":449},{"s":"F11","p":"T","x":31.6,"y":542},{"s":"F11","p":"T","x":33.7,"y":388},{"s":"F11","p":"T","x":35.4,"y":341},{"s":"F11","p":"T","x":40.4,"y":295},{"s":"F11","p":"T","x":41.6,"y":233},{"s":"F11","p":"T","x":52.7,"y":351},{"s":"F11","p":"T","x":54.9,"y":412},{"s":"F11","p":"T","x":63.2,"y":243},{"s":"F11","p":"T","x":64.8,"y":233},{"s":"F11","p":"F","x":23.5,"y":265},
{"s":"F18","p":"T","x":20.7,"y":392},{"s":"F18","p":"T","x":26.1,"y":522},{"s":"F18","p":"T","x":29,"y":447},{"s":"F18","p":"T","x":31.4,"y":461},{"s":"F18","p":"T","x":33.5,"y":356},{"s":"F18","p":"T","x":35.4,"y":322},{"s":"F18","p":"T","x":40.1,"y":267},{"s":"F18","p":"T","x":41.1,"y":308},{"s":"F18","p":"T","x":52.3,"y":314},{"s":"F18","p":"T","x":54.4,"y":461},{"s":"F18","p":"T","x":63.2,"y":244},{"s":"F18","p":"T","x":64.8,"y":225},{"s":"F18","p":"F","x":23.5,"y":217}
],
"lab":[
{"q":"A","s":"P","k":"n","x":1480,"y":264000,"t":"Pristine Ti₄O₇"},{"q":"A","s":"F2","k":"n","x":1480,"y":254000,"t":"F-2.31 Ti₄O₇"},{"q":"A","s":"F7","k":"n","x":1480,"y":240000,"t":"F-7.34 Ti₄O₇"},{"q":"A","s":"F11","k":"n","x":1480,"y":259000,"t":"F-11.4 Ti₄O₇"},{"q":"A","s":"F18","k":"n","x":1480,"y":318000,"t":"F-18.6 Ti₄O₇"},
{"q":"A","s":"P","k":"p","x":525,"y":272000,"t":"O 1s"},{"q":"A","s":"P","k":"p","x":516,"y":168000,"t":"Ti 2p"},{"q":"A","s":"P","k":"p","x":336,"y":100000,"t":"C 1s"},
{"q":"A","s":"F2","k":"p","x":525,"y":284000,"t":"O 1s"},{"q":"A","s":"F2","k":"p","x":723,"y":157000,"t":"F 1s"},{"q":"A","s":"F2","k":"p","x":516,"y":101000,"t":"Ti 2p"},{"q":"A","s":"F2","k":"p","x":343,"y":91000,"t":"C 1s"},
{"q":"A","s":"F7","k":"p","x":727,"y":184000,"t":"F 1s"},{"q":"A","s":"F7","k":"p","x":525,"y":267000,"t":"O 1s"},{"q":"A","s":"F7","k":"p","x":336,"y":194000,"t":"C 1s"},{"q":"A","s":"F7","k":"p","x":516,"y":134000,"t":"Ti 2p"},
{"q":"A","s":"F11","k":"p","x":740,"y":218000,"t":"F 1s"},{"q":"A","s":"F11","k":"p","x":519,"y":284000,"t":"O 1s"},{"q":"A","s":"F11","k":"p","x":457,"y":173000,"t":"Ti 2p"},{"q":"A","s":"F11","k":"p","x":336,"y":101000,"t":"C 1s"},
{"q":"A","s":"F18","k":"p","x":737,"y":300000,"t":"F 1s"},{"q":"A","s":"F18","k":"p","x":523,"y":312000,"t":"O 1s"},{"q":"A","s":"F18","k":"p","x":460,"y":202000,"t":"Ti 2p"},{"q":"A","s":"F18","k":"p","x":326,"y":116000,"t":"C 1s"},
{"q":"A","s":"P","k":"b","x":-18,"y":182000,"t":"A"},
{"q":"B","s":"P","k":"n","x":675.4,"y":14866,"t":"Pristine Ti₄O₇"},{"q":"B","s":"F2","k":"n","x":675.4,"y":16850,"t":"F-2.31 Ti₄O₇"},{"q":"B","s":"F7","k":"n","x":675.4,"y":27890,"t":"F-7.34 Ti₄O₇"},{"q":"B","s":"F11","k":"n","x":675.4,"y":27640,"t":"F-11.4 Ti₄O₇"},{"q":"B","s":"F18","k":"n","x":675.4,"y":40900,"t":"F-18.6 Ti₄O₇"},
{"q":"B","s":"F18","k":"b","x":697.8,"y":32700,"t":"B"},
{"q":"C","s":"P","k":"n","x":547.5,"y":45000,"t":"Pristine Ti₄O₇"},{"q":"C","s":"F2","k":"n","x":547.5,"y":42000,"t":"F-2.31 Ti₄O₇"},{"q":"C","s":"F7","k":"n","x":547.5,"y":41700,"t":"F-7.34 Ti₄O₇"},{"q":"C","s":"F11","k":"n","x":547.5,"y":51200,"t":"F-11.4 Ti₄O₇"},{"q":"C","s":"F18","k":"n","x":547.5,"y":57300,"t":"F-18.6 Ti₄O₇"},
{"q":"C","s":"P","k":"b","x":523.9,"y":38000,"t":"C"},
{"q":"D","s":"P","k":"n","x":99.3,"y":751,"t":"Pristine Ti₄O₇"},{"q":"D","s":"F2","k":"n","x":99.3,"y":851,"t":"F-2.31 Ti₄O₇"},{"q":"D","s":"F7","k":"n","x":99.3,"y":600,"t":"F-7.34 Ti₄O₇"},{"q":"D","s":"F11","k":"n","x":99.3,"y":443,"t":"F-11.4 Ti₄O₇"},{"q":"D","s":"F18","k":"n","x":99.3,"y":458,"t":"F-18.6 Ti₄O₇"},
{"q":"D","s":"F18","k":"b","x":5,"y":255,"t":"D"}
],
"box":[
{"q":"A","x":14,"x2":-50,"y":109000,"y2":254500},
{"q":"B","x":698.49,"x2":697.11,"y":24520,"y2":40900},
{"q":"C","x":524.87,"x2":522.97,"y":29100,"y2":46900},
{"q":"D","x":2.14,"x2":7.84,"y":101,"y2":409}
]
},
"spacing":0,
"hconcat":[
{"spacing":51,"vconcat":[
 {"spacing":0,"hconcat":[
  {"width":3,"height":1,"data":{"values":[]},"mark":{"type":"point","opacity":0},"view":{"stroke":null}},
  {"bounds":"flush","spacing":0,"vconcat":[
  {"width":450,"height":75,
   "encoding":{"x":{"field":"x","type":"quantitative","scale":{"domain":[1500,-50],"nice":false,"zero":false},"axis":{"values":[1400,1200,1000,800,600,400,200,0],"labels":false,"title":null,"tickSize":3}},
               "y":{"field":"y","type":"quantitative","scale":{"domain":[-23000,318000],"nice":false,"zero":false},"axis":{"values":[0,100000,200000,300000],"format":"d","title":null,"labelFontSize":5,"tickSize":3,"labelPadding":1}}},
   "layer":[
    {"data":{"name":"a"},"transform":[{"filter":"datum.s=='P'"}],"mark":{"type":"line","color":"#4d4d4d","strokeWidth":1,"clip":true},"encoding":{}},
    {"data":{"name":"box"},"transform":[{"filter":"datum.q=='A'"}],"mark":{"type":"rect","fill":"#c6c6c6"},"encoding":{"x2":{"field":"x2"},"y2":{"field":"y2"}}},
    {"data":{"name":"lab"},"transform":[{"filter":"datum.q=='A'&&datum.s=='P'&&datum.k=='n'"}],"mark":{"type":"text","align":"left","fontSize":14,"fontWeight":"bold","color":"#111"},"encoding":{"text":{"field":"t"}}},
    {"data":{"name":"lab"},"transform":[{"filter":"datum.q=='A'&&datum.s=='P'&&datum.k=='p'"}],"mark":{"type":"text","align":"left","fontSize":14,"color":"#333"},"encoding":{"text":{"field":"t"}}},
    {"data":{"name":"lab"},"transform":[{"filter":"datum.q=='A'&&datum.k=='b'"}],"mark":{"type":"text","fontSize":28,"fontWeight":"bold","color":"#111"},"encoding":{"text":{"field":"t"}}}
   ]},
  {"width":450,"height":71,
   "encoding":{"x":{"field":"x","type":"quantitative","scale":{"domain":[1500,-50],"nice":false,"zero":false},"axis":{"values":[1400,1200,1000,800,600,400,200,0],"labels":false,"title":null,"tickSize":3}},
               "y":{"field":"y","type":"quantitative","scale":{"domain":[-20000,340000],"nice":false,"zero":false},"axis":{"values":[0,100000,200000,300000],"format":"d","title":null,"labelFontSize":5,"tickSize":3,"labelPadding":1}}},
   "layer":[
    {"data":{"name":"a"},"transform":[{"filter":"datum.s=='F2'"}],"mark":{"type":"line","color":"#d9879b","strokeWidth":1,"clip":true},"encoding":{}},
    {"data":{"name":"lab"},"transform":[{"filter":"datum.q=='A'&&datum.s=='F2'&&datum.k=='n'"}],"mark":{"type":"text","align":"left","fontSize":14,"fontWeight":"bold","color":"#111"},"encoding":{"text":{"field":"t"}}},
    {"data":{"name":"lab"},"transform":[{"filter":"datum.q=='A'&&datum.s=='F2'&&datum.k=='p'"}],"mark":{"type":"text","align":"left","fontSize":14,"color":"#333"},"encoding":{"text":{"field":"t"}}}
   ]},
  {"width":450,"height":75,
   "encoding":{"x":{"field":"x","type":"quantitative","scale":{"domain":[1500,-50],"nice":false,"zero":false},"axis":{"values":[1400,1200,1000,800,600,400,200,0],"labels":false,"title":null,"tickSize":3}},
               "y":{"field":"y","type":"quantitative","scale":{"domain":[-23000,322600],"nice":false,"zero":false},"axis":{"values":[0,100000,200000,300000],"format":"d","title":"Counts","titleFontSize":21,"titlePadding":17,"labelFontSize":5,"tickSize":3,"labelPadding":1}}},
   "layer":[
    {"data":{"name":"a"},"transform":[{"filter":"datum.s=='F7'"}],"mark":{"type":"line","color":"#5b9bc4","strokeWidth":1,"clip":true},"encoding":{}},
    {"data":{"name":"lab"},"transform":[{"filter":"datum.q=='A'&&datum.s=='F7'&&datum.k=='n'"}],"mark":{"type":"text","align":"left","fontSize":14,"fontWeight":"bold","color":"#111"},"encoding":{"text":{"field":"t"}}},
    {"data":{"name":"lab"},"transform":[{"filter":"datum.q=='A'&&datum.s=='F7'&&datum.k=='p'"}],"mark":{"type":"text","align":"left","fontSize":14,"color":"#333"},"encoding":{"text":{"field":"t"}}}
   ]},
  {"width":450,"height":76,
   "encoding":{"x":{"field":"x","type":"quantitative","scale":{"domain":[1500,-50],"nice":false,"zero":false},"axis":{"values":[1400,1200,1000,800,600,400,200,0],"labels":false,"title":null,"tickSize":3}},
               "y":{"field":"y","type":"quantitative","scale":{"domain":[-35500,350000],"nice":false,"zero":false},"axis":{"values":[0,100000,200000,300000],"format":"d","title":null,"labelFontSize":5,"tickSize":3,"labelPadding":1}}},
   "layer":[
    {"data":{"name":"a"},"transform":[{"filter":"datum.s=='F11'"}],"mark":{"type":"line","color":"#eaa957","strokeWidth":1,"clip":true},"encoding":{}},
    {"data":{"name":"lab"},"transform":[{"filter":"datum.q=='A'&&datum.s=='F11'&&datum.k=='n'"}],"mark":{"type":"text","align":"left","fontSize":14,"fontWeight":"bold","color":"#111"},"encoding":{"text":{"field":"t"}}},
    {"data":{"name":"lab"},"transform":[{"filter":"datum.q=='A'&&datum.s=='F11'&&datum.k=='p'"}],"mark":{"type":"text","align":"left","fontSize":14,"color":"#333"},"encoding":{"text":{"field":"t"}}}
   ]},
  {"width":450,"height":70,
   "encoding":{"x":{"field":"x","type":"quantitative","scale":{"domain":[1500,-50],"nice":false,"zero":false},"axis":{"values":[1400,1200,1000,800,600,400,200,0],"format":"d","title":"Binding energy (eV)","labelFontSize":15,"labelFlush":false,"tickSize":4,"labelPadding":2,"titleFontSize":19,"titlePadding":8}},
               "y":{"field":"y","type":"quantitative","scale":{"domain":[-6000,400000],"nice":false,"zero":false},"axis":{"values":[0,100000,200000,300000,400000],"format":"d","title":null,"labelFontSize":5,"tickSize":3,"labelPadding":1}}},
   "layer":[
    {"data":{"name":"a"},"transform":[{"filter":"datum.s=='F18'"}],"mark":{"type":"line","color":"#5fae5f","strokeWidth":1,"clip":true},"encoding":{}},
    {"data":{"name":"lab"},"transform":[{"filter":"datum.q=='A'&&datum.s=='F18'&&datum.k=='n'"}],"mark":{"type":"text","align":"left","fontSize":14,"fontWeight":"bold","color":"#111"},"encoding":{"text":{"field":"t"}}},
    {"data":{"name":"lab"},"transform":[{"filter":"datum.q=='A'&&datum.s=='F18'&&datum.k=='p'"}],"mark":{"type":"text","align":"left","fontSize":14,"color":"#333"},"encoding":{"text":{"field":"t"}}}
   ]}
  ]}
 ]},
 {"spacing":0,"hconcat":[
  {"width":49,"height":1,"data":{"values":[]},"mark":{"type":"point","opacity":0},"view":{"stroke":null}},
  {"bounds":"flush","spacing":0,"vconcat":[
  {"width":367,"height":78,
   "encoding":{"x":{"field":"x","type":"quantitative","scale":{"domain":[547.8,524.55],"nice":false,"zero":false},"axis":{"values":[545,540,535,530,525],"labels":false,"title":null,"tickSize":3}},
               "y":{"field":"y","type":"quantitative","scale":{"domain":[-1500,54000],"nice":false,"zero":false},"axis":{"values":[0,15000,30000,45000],"format":"d","title":null,"labelFontSize":5,"tickSize":3,"labelPadding":1}}},
   "layer":[
    {"data":{"name":"c"},"transform":[{"filter":"datum.s=='P'&&datum.k=='d'"}],"mark":{"type":"line","color":"#2d4f6a","strokeWidth":1.5,"clip":true},"encoding":{}},
    {"data":{"name":"c"},"transform":[{"filter":"datum.s=='P'&&datum.k=='r'"}],"mark":{"type":"line","color":"#e0555f","strokeWidth":1.8,"strokeDash":[6,5],"clip":true},"encoding":{}},
    {"data":{"name":"c"},"transform":[{"filter":"datum.s=='P'&&datum.k=='u'"}],"mark":{"type":"line","color":"#3fa9d6","strokeWidth":1.8,"strokeDash":[6,5],"clip":true},"encoding":{}},
    {"data":{"name":"box"},"transform":[{"filter":"datum.q=='C'"}],"mark":{"type":"rect","fill":"#c6c6c6"},"encoding":{"x2":{"field":"x2"},"y2":{"field":"y2"}}},
    {"data":{"name":"lab"},"transform":[{"filter":"datum.q=='C'&&datum.s=='P'&&datum.k=='n'"}],"mark":{"type":"text","align":"left","fontSize":14,"fontWeight":"bold","color":"#111"},"encoding":{"text":{"field":"t"}}},
    {"data":{"name":"lab"},"transform":[{"filter":"datum.q=='C'&&datum.k=='b'"}],"mark":{"type":"text","fontSize":28,"fontWeight":"bold","color":"#111"},"encoding":{"text":{"field":"t"}}}
   ]},
  {"width":367,"height":79,
   "encoding":{"x":{"field":"x","type":"quantitative","scale":{"domain":[547.8,524.55],"nice":false,"zero":false},"axis":{"values":[545,540,535,530,525],"labels":false,"title":null,"tickSize":3}},
               "y":{"field":"y","type":"quantitative","scale":{"domain":[-750,60000],"nice":false,"zero":false},"axis":{"values":[0,15000,30000,45000,60000],"format":"d","title":null,"labelFontSize":5,"tickSize":3,"labelPadding":1}}},
   "layer":[
    {"data":{"name":"c"},"transform":[{"filter":"datum.s=='F2'&&datum.k=='d'"}],"mark":{"type":"line","color":"#2d4f6a","strokeWidth":1.5,"clip":true},"encoding":{}},
    {"data":{"name":"c"},"transform":[{"filter":"datum.s=='F2'&&datum.k=='r'"}],"mark":{"type":"line","color":"#e0555f","strokeWidth":1.8,"strokeDash":[6,5],"clip":true},"encoding":{}},
    {"data":{"name":"c"},"transform":[{"filter":"datum.s=='F2'&&datum.k=='u'"}],"mark":{"type":"line","color":"#3fa9d6","strokeWidth":1.8,"strokeDash":[6,5],"clip":true},"encoding":{}},
    {"data":{"name":"lab"},"transform":[{"filter":"datum.q=='C'&&datum.s=='F2'&&datum.k=='n'"}],"mark":{"type":"text","align":"left","fontSize":14,"fontWeight":"bold","color":"#111"},"encoding":{"text":{"field":"t"}}}
   ]},
  {"width":367,"height":85,
   "encoding":{"x":{"field":"x","type":"quantitative","scale":{"domain":[547.8,524.55],"nice":false,"zero":false},"axis":{"values":[545,540,535,530,525],"labels":false,"title":null,"tickSize":3}},
               "y":{"field":"y","type":"quantitative","scale":{"domain":[0,56300],"nice":false,"zero":false},"axis":{"values":[0,15000,30000,45000],"format":"d","title":"Counts","titleFontSize":21,"titlePadding":4,"labelFontSize":5,"tickSize":3,"labelPadding":1}}},
   "layer":[
    {"data":{"name":"c"},"transform":[{"filter":"datum.s=='F7'&&datum.k=='d'"}],"mark":{"type":"line","color":"#2d4f6a","strokeWidth":1.5,"clip":true},"encoding":{}},
    {"data":{"name":"c"},"transform":[{"filter":"datum.s=='F7'&&datum.k=='r'"}],"mark":{"type":"line","color":"#e0555f","strokeWidth":1.8,"strokeDash":[6,5],"clip":true},"encoding":{}},
    {"data":{"name":"c"},"transform":[{"filter":"datum.s=='F7'&&datum.k=='u'"}],"mark":{"type":"line","color":"#3fa9d6","strokeWidth":1.8,"strokeDash":[6,5],"clip":true},"encoding":{}},
    {"data":{"name":"lab"},"transform":[{"filter":"datum.q=='C'&&datum.s=='F7'&&datum.k=='n'"}],"mark":{"type":"text","align":"left","fontSize":14,"fontWeight":"bold","color":"#111"},"encoding":{"text":{"field":"t"}}}
   ]},
  {"width":367,"height":84,
   "encoding":{"x":{"field":"x","type":"quantitative","scale":{"domain":[547.8,524.55],"nice":false,"zero":false},"axis":{"values":[545,540,535,530,525],"labels":false,"title":null,"tickSize":3}},
               "y":{"field":"y","type":"quantitative","scale":{"domain":[5600,65800],"nice":false,"zero":false},"axis":{"values":[15000,30000,45000,60000],"format":"d","title":null,"labelFontSize":5,"tickSize":3,"labelPadding":1}}},
   "layer":[
    {"data":{"name":"c"},"transform":[{"filter":"datum.s=='F11'&&datum.k=='d'"}],"mark":{"type":"line","color":"#2d4f6a","strokeWidth":1.5,"clip":true},"encoding":{}},
    {"data":{"name":"c"},"transform":[{"filter":"datum.s=='F11'&&datum.k=='r'"}],"mark":{"type":"line","color":"#e0555f","strokeWidth":1.8,"strokeDash":[6,5],"clip":true},"encoding":{}},
    {"data":{"name":"c"},"transform":[{"filter":"datum.s=='F11'&&datum.k=='u'"}],"mark":{"type":"line","color":"#3fa9d6","strokeWidth":1.8,"strokeDash":[6,5],"clip":true},"encoding":{}},
    {"data":{"name":"lab"},"transform":[{"filter":"datum.q=='C'&&datum.s=='F11'&&datum.k=='n'"}],"mark":{"type":"text","align":"left","fontSize":14,"fontWeight":"bold","color":"#111"},"encoding":{"text":{"field":"t"}}}
   ]},
  {"width":367,"height":83,
   "encoding":{"x":{"field":"x","type":"quantitative","scale":{"domain":[547.8,524.55],"nice":false,"zero":false},"axis":{"values":[545,540,535,530,525],"title":"Binding energy (eV)","labelFontSize":15,"labelFlush":false,"tickSize":4,"labelPadding":2,"titleFontSize":19,"titlePadding":3}},
               "y":{"field":"y","type":"quantitative","scale":{"domain":[4860,75000],"nice":false,"zero":false},"axis":{"values":[15000,30000,45000,60000,75000],"format":"d","title":null,"labelFontSize":5,"tickSize":3,"labelPadding":1}}},
   "layer":[
    {"data":{"name":"c"},"transform":[{"filter":"datum.s=='F18'&&datum.k=='d'"}],"mark":{"type":"line","color":"#2d4f6a","strokeWidth":1.5,"clip":true},"encoding":{}},
    {"data":{"name":"c"},"transform":[{"filter":"datum.s=='F18'&&datum.k=='r'"}],"mark":{"type":"line","color":"#e0555f","strokeWidth":1.8,"strokeDash":[6,5],"clip":true},"encoding":{}},
    {"data":{"name":"c"},"transform":[{"filter":"datum.s=='F18'&&datum.k=='u'"}],"mark":{"type":"line","color":"#3fa9d6","strokeWidth":1.8,"strokeDash":[6,5],"clip":true},"encoding":{}},
    {"data":{"name":"lab"},"transform":[{"filter":"datum.q=='C'&&datum.s=='F18'&&datum.k=='n'"}],"mark":{"type":"text","align":"left","fontSize":14,"fontWeight":"bold","color":"#111"},"encoding":{"text":{"field":"t"}}}
   ]}
  ]}
 ]}
]},
{"spacing":20,"vconcat":[
 {"spacing":0,"hconcat":[
  {"width":17,"height":1,"data":{"values":[]},"mark":{"type":"point","opacity":0},"view":{"stroke":null}},
  {"bounds":"flush","spacing":0,"vconcat":[
  {"width":395,"height":79,
   "encoding":{"x":{"field":"x","type":"quantitative","scale":{"domain":[700,675],"nice":false,"zero":false},"axis":{"values":[700,695,690,685,680,675],"labels":false,"title":null,"tickSize":3}},
               "y":{"field":"y","type":"quantitative","scale":{"domain":[12910,15200],"nice":false,"zero":false},"axis":{"values":[13000,13500,14000,14500,15000],"format":"d","title":null,"labelFontSize":5,"tickSize":3,"labelPadding":1}}},
   "layer":[
    {"data":{"name":"b"},"transform":[{"filter":"datum.s=='P'&&datum.k=='d'"}],"mark":{"type":"line","color":"#1e1e2a","strokeWidth":1.1,"clip":true},"encoding":{}},
    {"data":{"name":"lab"},"transform":[{"filter":"datum.q=='B'&&datum.s=='P'&&datum.k=='n'"}],"mark":{"type":"text","align":"right","fontSize":14,"fontWeight":"bold","color":"#111"},"encoding":{"text":{"field":"t"}}}
   ]},
  {"width":395,"height":76,
   "encoding":{"x":{"field":"x","type":"quantitative","scale":{"domain":[700,675],"nice":false,"zero":false},"axis":{"values":[700,695,690,685,680,675],"labels":false,"title":null,"tickSize":3}},
               "y":{"field":"y","type":"quantitative","scale":{"domain":[13080,17700],"nice":false,"zero":false},"axis":{"values":[13500,14500,15500,16500,17500],"format":"d","title":null,"labelFontSize":5,"tickSize":3,"labelPadding":1}}},
   "layer":[
    {"data":{"name":"b"},"transform":[{"filter":"datum.s=='F2'&&datum.k=='d'"}],"mark":{"type":"line","color":"#1e1e2a","strokeWidth":1.3,"clip":true},"encoding":{}},
    {"data":{"name":"b"},"transform":[{"filter":"datum.s=='F2'&&datum.k=='m'"}],"mark":{"type":"line","color":"#3b4fb0","strokeWidth":1.6,"strokeDash":[5,5],"clip":true},"encoding":{}},
    {"data":{"name":"b"},"transform":[{"filter":"datum.s=='F2'&&datum.k=='n'"}],"mark":{"type":"line","color":"#d0453c","strokeWidth":1.6,"strokeDash":[5,5],"clip":true},"encoding":{}},
    {"data":{"name":"lab"},"transform":[{"filter":"datum.q=='B'&&datum.s=='F2'&&datum.k=='n'"}],"mark":{"type":"text","align":"right","fontSize":14,"fontWeight":"bold","color":"#111"},"encoding":{"text":{"field":"t"}}}
   ]},
  {"width":395,"height":73,
   "encoding":{"x":{"field":"x","type":"quantitative","scale":{"domain":[700,675],"nice":false,"zero":false},"axis":{"values":[700,695,690,685,680,675],"labels":false,"title":null,"tickSize":3}},
               "y":{"field":"y","type":"quantitative","scale":{"domain":[13600,30700],"nice":false,"zero":false},"axis":{"values":[15000,20000,25000,30000],"format":"d","title":"Counts","titleFontSize":21,"titlePadding":33,"labelFontSize":5,"tickSize":3,"labelPadding":1}}},
   "layer":[
    {"data":{"name":"b"},"transform":[{"filter":"datum.s=='F7'&&datum.k=='d'"}],"mark":{"type":"line","color":"#1e1e2a","strokeWidth":1.3,"clip":true},"encoding":{}},
    {"data":{"name":"b"},"transform":[{"filter":"datum.s=='F7'&&datum.k=='m'"}],"mark":{"type":"line","color":"#3b4fb0","strokeWidth":1.6,"strokeDash":[5,5],"clip":true},"encoding":{}},
    {"data":{"name":"b"},"transform":[{"filter":"datum.s=='F7'&&datum.k=='n'"}],"mark":{"type":"line","color":"#d0453c","strokeWidth":1.6,"strokeDash":[5,5],"clip":true},"encoding":{}},
    {"data":{"name":"lab"},"transform":[{"filter":"datum.q=='B'&&datum.s=='F7'&&datum.k=='n'"}],"mark":{"type":"text","align":"right","fontSize":14,"fontWeight":"bold","color":"#111"},"encoding":{"text":{"field":"t"}}}
   ]},
  {"width":395,"height":78,
   "encoding":{"x":{"field":"x","type":"quantitative","scale":{"domain":[700,675],"nice":false,"zero":false},"axis":{"values":[700,695,690,685,680,675],"labels":false,"title":null,"tickSize":3}},
               "y":{"field":"y","type":"quantitative","scale":{"domain":[14000,33000],"nice":false,"zero":false},"axis":{"values":[17500,20000,25000,30000],"format":"d","title":null,"labelFontSize":5,"tickSize":3,"labelPadding":1}}},
   "layer":[
    {"data":{"name":"b"},"transform":[{"filter":"datum.s=='F11'&&datum.k=='d'"}],"mark":{"type":"line","color":"#1e1e2a","strokeWidth":1.3,"clip":true},"encoding":{}},
    {"data":{"name":"b"},"transform":[{"filter":"datum.s=='F11'&&datum.k=='m'"}],"mark":{"type":"line","color":"#3b4fb0","strokeWidth":1.6,"strokeDash":[5,5],"clip":true},"encoding":{}},
    {"data":{"name":"b"},"transform":[{"filter":"datum.s=='F11'&&datum.k=='n'"}],"mark":{"type":"line","color":"#d0453c","strokeWidth":1.6,"strokeDash":[5,5],"clip":true},"encoding":{}},
    {"data":{"name":"lab"},"transform":[{"filter":"datum.q=='B'&&datum.s=='F11'&&datum.k=='n'"}],"mark":{"type":"text","align":"right","fontSize":14,"fontWeight":"bold","color":"#111"},"encoding":{"text":{"field":"t"}}}
   ]},
  {"width":395,"height":79,
   "encoding":{"x":{"field":"x","type":"quantitative","scale":{"domain":[700,675],"nice":false,"zero":false},"axis":{"values":[700,695,690,685,680,675],"title":"Binding energy (eV)","labelFontSize":15,"labelFlush":false,"tickSize":4,"labelPadding":2,"titleFontSize":19,"titlePadding":5}},
               "y":{"field":"y","type":"quantitative","scale":{"domain":[13000,48000],"nice":false,"zero":false},"axis":{"values":[15000,22500,30000,37500,45000],"format":"d","title":null,"labelFontSize":5,"tickSize":3,"labelPadding":1}}},
   "layer":[
    {"data":{"name":"b"},"transform":[{"filter":"datum.s=='F18'&&datum.k=='d'"}],"mark":{"type":"line","color":"#1e1e2a","strokeWidth":1.3,"clip":true},"encoding":{}},
    {"data":{"name":"b"},"transform":[{"filter":"datum.s=='F18'&&datum.k=='m'"}],"mark":{"type":"line","color":"#3b4fb0","strokeWidth":1.6,"strokeDash":[5,5],"clip":true},"encoding":{}},
    {"data":{"name":"b"},"transform":[{"filter":"datum.s=='F18'&&datum.k=='n'"}],"mark":{"type":"line","color":"#d0453c","strokeWidth":1.6,"strokeDash":[5,5],"clip":true},"encoding":{}},
    {"data":{"name":"box"},"transform":[{"filter":"datum.q=='B'"}],"mark":{"type":"rect","fill":"#c6c6c6"},"encoding":{"x2":{"field":"x2"},"y2":{"field":"y2"}}},
    {"data":{"name":"lab"},"transform":[{"filter":"datum.q=='B'&&datum.s=='F18'&&datum.k=='n'"}],"mark":{"type":"text","align":"right","fontSize":14,"fontWeight":"bold","color":"#111"},"encoding":{"text":{"field":"t"}}},
    {"data":{"name":"lab"},"transform":[{"filter":"datum.q=='B'&&datum.k=='b'"}],"mark":{"type":"text","fontSize":30,"fontWeight":"bold","color":"#111"},"encoding":{"text":{"field":"t"}}}
   ]}
  ]}
 ]},
 {"spacing":0,"hconcat":[
  {"width":3,"height":1,"data":{"values":[]},"mark":{"type":"point","opacity":0},"view":{"stroke":null}},
  {"bounds":"flush","spacing":0,
  "title":{"text":"• Ti₄O₇ (50-0787)      • TiOF₂ (59-0871)","fontSize":11,"font":"Liberation Serif","fontWeight":"bold","color":"#222","anchor":"middle","offset":6,"dx":-5},
  "vconcat":[
  {"width":421,"height":88,
   "encoding":{"x":{"field":"x","type":"quantitative","scale":{"domain":[0,100],"nice":false,"zero":false},"axis":{"values":[0,20,40,60,80,100],"labels":false,"title":null,"tickSize":3}},
               "y":{"field":"y","type":"quantitative","scale":{"domain":[-92,925],"nice":false,"zero":false},"axis":{"values":[0,200,400,600,800],"title":null,"labelFontSize":10,"tickSize":3,"labelPadding":2}}},
   "layer":[
    {"data":{"name":"d"},"transform":[{"filter":"datum.s=='P'"}],"mark":{"type":"line","color":"#3a3a3a","strokeWidth":1,"clip":true},"encoding":{}},
    {"data":{"name":"dot"},"transform":[{"filter":"datum.s=='P'"}],"mark":{"type":"point","filled":true,"size":14,"opacity":1},"encoding":{"color":{"field":"p","type":"nominal","scale":{"domain":["T","F"],"range":["#4a2a70","#a8304c"]},"legend":null}}},
    {"data":{"name":"lab"},"transform":[{"filter":"datum.q=='D'&&datum.s=='P'&&datum.k=='n'"}],"mark":{"type":"text","align":"right","fontSize":15,"fontWeight":"bold","color":"#111"},"encoding":{"text":{"field":"t"}}}
   ]},
  {"width":421,"height":85,
   "encoding":{"x":{"field":"x","type":"quantitative","scale":{"domain":[0,100],"nice":false,"zero":false},"axis":{"values":[0,20,40,60,80,100],"labels":false,"title":null,"tickSize":3}},
               "y":{"field":"y","type":"quantitative","scale":{"domain":[-107,1027],"nice":false,"zero":false},"axis":{"values":[0,200,400,600,800],"title":null,"labelFontSize":10,"tickSize":3,"labelPadding":2}}},
   "layer":[
    {"data":{"name":"d"},"transform":[{"filter":"datum.s=='F2'"}],"mark":{"type":"line","color":"#e2514f","strokeWidth":1,"clip":true},"encoding":{}},
    {"data":{"name":"dot"},"transform":[{"filter":"datum.s=='F2'"}],"mark":{"type":"point","filled":true,"size":14,"opacity":1},"encoding":{"color":{"field":"p","type":"nominal","scale":{"domain":["T","F"],"range":["#4a2a70","#a8304c"]},"legend":null}}},
    {"data":{"name":"lab"},"transform":[{"filter":"datum.q=='D'&&datum.s=='F2'&&datum.k=='n'"}],"mark":{"type":"text","align":"right","fontSize":15,"fontWeight":"bold","color":"#111"},"encoding":{"text":{"field":"t"}}}
   ]},
  {"width":421,"height":83,
   "encoding":{"x":{"field":"x","type":"quantitative","scale":{"domain":[0,100],"nice":false,"zero":false},"axis":{"values":[0,20,40,60,80,100],"labels":false,"title":null,"tickSize":3}},
               "y":{"field":"y","type":"quantitative","scale":{"domain":[-103,755],"nice":false,"zero":false},"axis":{"values":[0,200,400,600],"title":"Intensity","titleFontSize":21,"titlePadding":14,"labelFontSize":10,"tickSize":3,"labelPadding":2}}},
   "layer":[
    {"data":{"name":"d"},"transform":[{"filter":"datum.s=='F7'"}],"mark":{"type":"line","color":"#2e7db8","strokeWidth":1,"clip":true},"encoding":{}},
    {"data":{"name":"dot"},"transform":[{"filter":"datum.s=='F7'"}],"mark":{"type":"point","filled":true,"size":14,"opacity":1},"encoding":{"color":{"field":"p","type":"nominal","scale":{"domain":["T","F"],"range":["#4a2a70","#a8304c"]},"legend":null}}},
    {"data":{"name":"lab"},"transform":[{"filter":"datum.q=='D'&&datum.s=='F7'&&datum.k=='n'"}],"mark":{"type":"text","align":"right","fontSize":15,"fontWeight":"bold","color":"#111"},"encoding":{"text":{"field":"t"}}}
   ]},
  {"width":421,"height":80,
   "encoding":{"x":{"field":"x","type":"quantitative","scale":{"domain":[0,100],"nice":false,"zero":false},"axis":{"values":[0,20,40,60,80,100],"labels":false,"title":null,"tickSize":3}},
               "y":{"field":"y","type":"quantitative","scale":{"domain":[-92,646],"nice":false,"zero":false},"axis":{"values":[0,200,400,600],"title":null,"labelFontSize":10,"tickSize":3,"labelPadding":2}}},
   "layer":[
    {"data":{"name":"d"},"transform":[{"filter":"datum.s=='F11'"}],"mark":{"type":"line","color":"#f0a234","strokeWidth":1,"clip":true},"encoding":{}},
    {"data":{"name":"dot"},"transform":[{"filter":"datum.s=='F11'"}],"mark":{"type":"point","filled":true,"size":14,"opacity":1},"encoding":{"color":{"field":"p","type":"nominal","scale":{"domain":["T","F"],"range":["#4a2a70","#a8304c"]},"legend":null}}},
    {"data":{"name":"lab"},"transform":[{"filter":"datum.q=='D'&&datum.s=='F11'&&datum.k=='n'"}],"mark":{"type":"text","align":"right","fontSize":15,"fontWeight":"bold","color":"#111"},"encoding":{"text":{"field":"t"}}}
   ]},
  {"width":421,"height":80,
   "encoding":{"x":{"field":"x","type":"quantitative","scale":{"domain":[0,100],"nice":false,"zero":false},"axis":{"values":[0,20,40,60,80,100],"title":"2-Theta","labelFontSize":16,"labelFlush":false,"tickSize":4,"labelPadding":2,"titleFontSize":21,"titlePadding":4}},
               "y":{"field":"y","type":"quantitative","scale":{"domain":[-50,617],"nice":false,"zero":false},"axis":{"values":[0,200,400,600],"title":null,"labelFontSize":10,"tickSize":3,"labelPadding":2}}},
   "layer":[
    {"data":{"name":"d"},"transform":[{"filter":"datum.s=='F18'"}],"mark":{"type":"line","color":"#2fa23a","strokeWidth":1,"clip":true},"encoding":{}},
    {"data":{"name":"dot"},"transform":[{"filter":"datum.s=='F18'"}],"mark":{"type":"point","filled":true,"size":14,"opacity":1},"encoding":{"color":{"field":"p","type":"nominal","scale":{"domain":["T","F"],"range":["#4a2a70","#a8304c"]},"legend":null}}},
    {"data":{"name":"box"},"transform":[{"filter":"datum.q=='D'"}],"mark":{"type":"rect","fill":"#c6c6c6"},"encoding":{"x2":{"field":"x2"},"y2":{"field":"y2"}}},
    {"data":{"name":"lab"},"transform":[{"filter":"datum.q=='D'&&datum.s=='F18'&&datum.k=='n'"}],"mark":{"type":"text","align":"right","fontSize":15,"fontWeight":"bold","color":"#111"},"encoding":{"text":{"field":"t"}}},
    {"data":{"name":"lab"},"transform":[{"filter":"datum.q=='D'&&datum.k=='b'"}],"mark":{"type":"text","fontSize":30,"fontWeight":"bold","color":"#111"},"encoding":{"text":{"field":"t"}}}
   ]}
  ]}
 ]}
]}
]
}
